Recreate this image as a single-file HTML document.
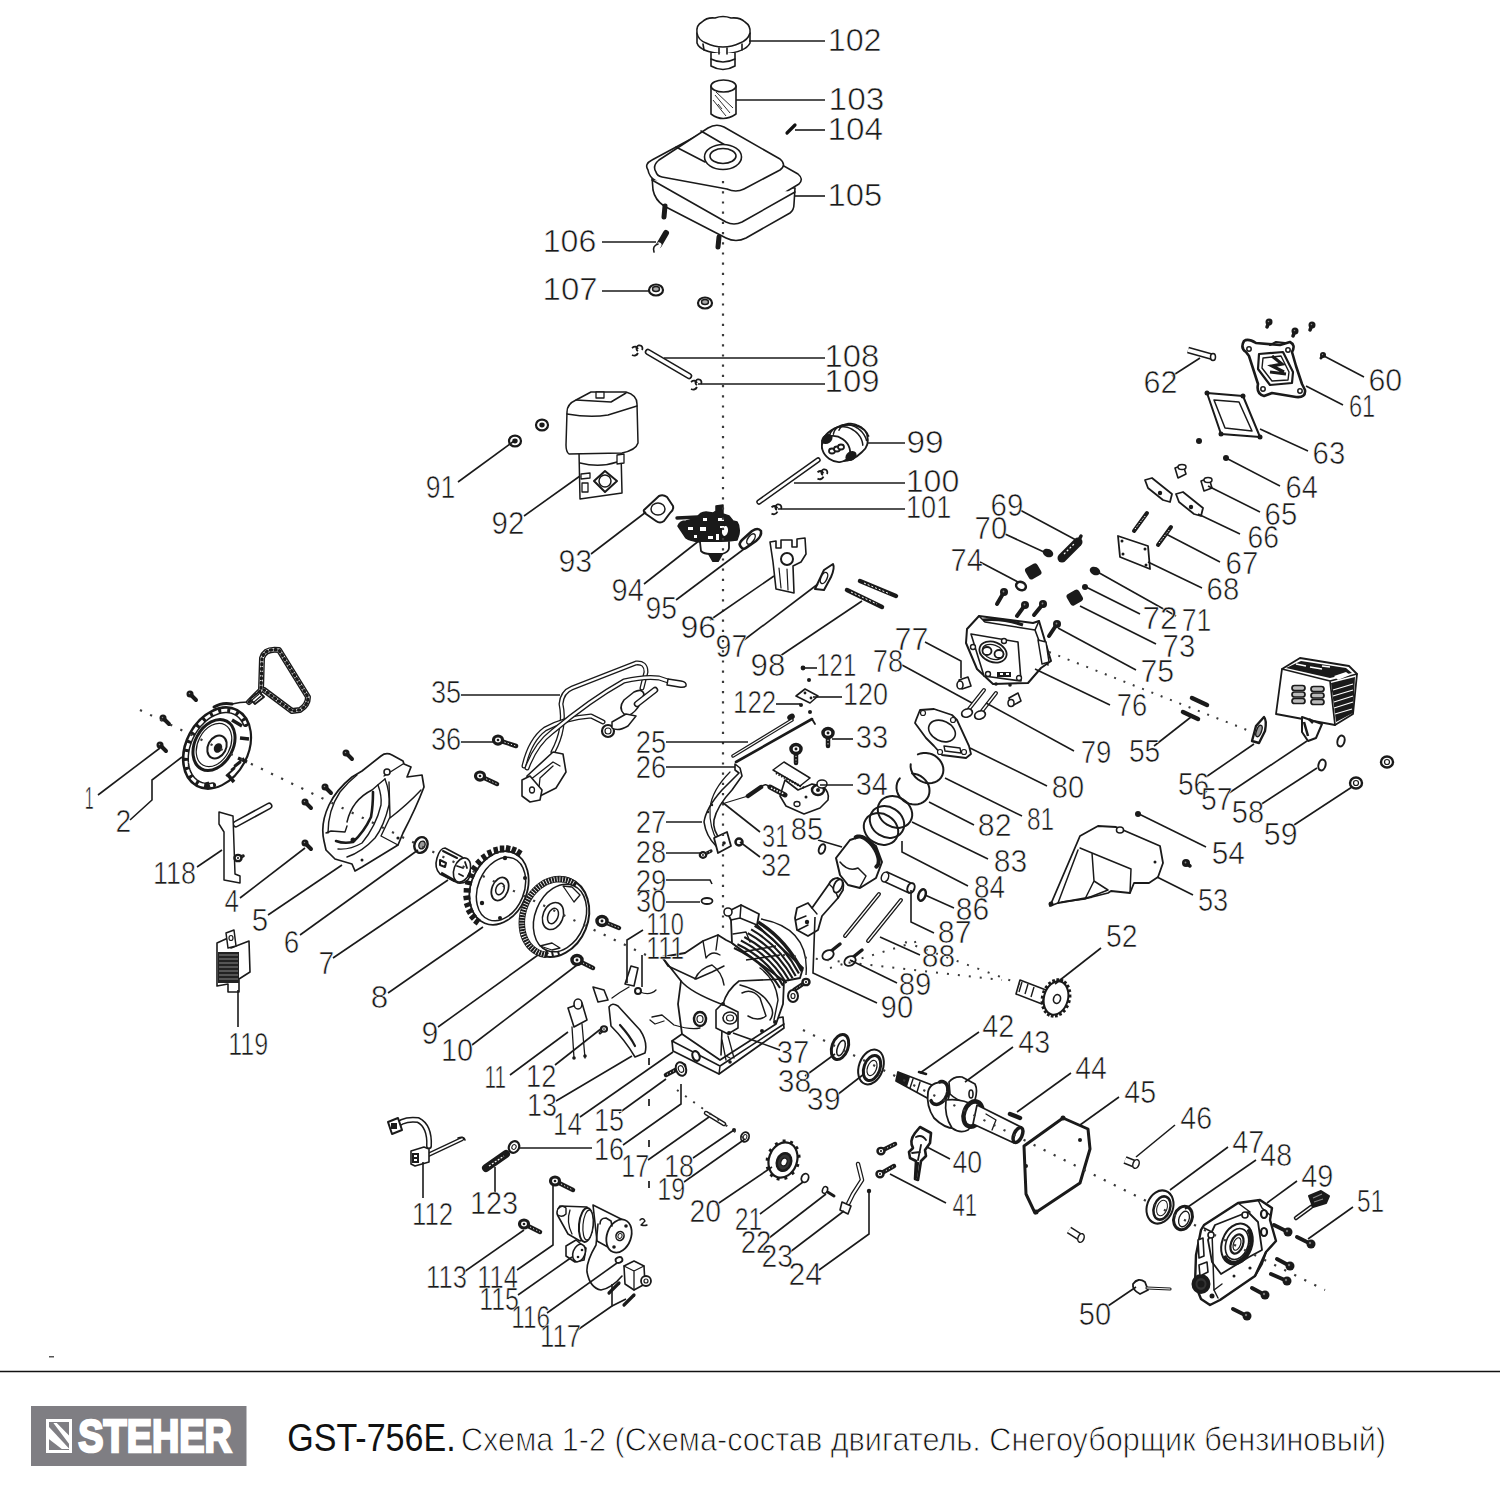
<!DOCTYPE html>
<html><head><meta charset="utf-8">
<style>
html,body{margin:0;padding:0;background:#fff;width:1500px;height:1500px;overflow:hidden}
svg{position:absolute;left:0;top:0}
.lbl text{font-family:"Liberation Sans",sans-serif;font-size:31px;fill:#1a1a1a;stroke:#fff;stroke-width:0.6px}
.ld polyline{fill:none;stroke:#1a1a1a;stroke-width:1.6}
.p{fill:#fff;stroke:#1a1a1a;stroke-width:1.6;stroke-linejoin:round;stroke-linecap:round}
.pd{fill:#222;stroke:#111;stroke-width:1.2}
.dot{fill:none;stroke:#333;stroke-width:1.8;stroke-dasharray:1.5 6}
.foot{position:absolute;left:288px;top:1402px;font-family:"Liberation Sans",sans-serif;color:#111;white-space:nowrap}
</style></head><body>
<svg width="1500" height="1500" viewBox="0 0 1500 1500">
<g class="parts">

<path class="p" d="M697,33 L697,43 Q700,52 723,54 Q746,52 750,43 L750,33"/>
<path class="p" d="M711,53 L711,66 Q723,73 735,66 L735,53"/>
<path class="p" d="M711,59 Q723,65 735,59"/>
<path class="p" d="M697,33 Q696,25 702,22 Q707,17 715,18 Q723,15 731,18 Q740,17 745,22 Q751,26 750,33 Q748,40 740,43 Q732,47 723,47 Q714,47 706,43 Q698,40 697,33 Z"/>
<path class="p" d="M703,44 L704,50 M719,48 L719,54 M727,48 L727,54 M742,44 L742,50"/>
<path class="p" d="M711,86 L711,114 Q723,123 736,114 L736,86"/>
<ellipse class="p" cx="723.5" cy="86" rx="12.5" ry="6"/>
<path fill="none" stroke="#333" stroke-width="1" d="M715,95 L730,113 M713,100 L726,116 M716,92 L733,108 M718,104 L722,109"/>
<line x1="787" y1="133" x2="795" y2="125" stroke="#111" stroke-width="3.2" stroke-linecap="round"/>
<path class="p" d="M652,177 L653,190 Q655,200 664,206 L726,238 Q736,243 746,238 L790,213 Q794,210 794,204 L795,188 Z"/>
<path class="p" d="M648,170 Q644,164 652,160 L704,132 Q714,127 722,131 L798,174 Q804,179 799,184 L742,218 Q734,222 724,218 L656,181 Q649,177 648,170 Z"/>
<path class="p" d="M652,180 L726,222 Q734,226 742,222 L795,192"/>
<path class="p" d="M656,172 Q652,166 659,160 L708,128 Q716,123 724,127 L780,159 Q787,165 780,170 L744,189 Q736,193 727,189 L662,177 Q657,176 656,172 Z"/>
<path class="p" d="M701,131 L725,145 M676,147 L705,162"/>
<ellipse class="p" cx="723" cy="157" rx="18.5" ry="12.5"/>
<ellipse class="p" cx="723" cy="156" rx="13" ry="7.5"/>
<line x1="665" y1="206" x2="664" y2="217" stroke="#1a1a1a" stroke-width="5" stroke-linecap="round"/><line x1="719" y1="237" x2="718" y2="247" stroke="#1a1a1a" stroke-width="5" stroke-linecap="round"/><line x1="666" y1="233" x2="659" y2="245" stroke="#1a1a1a" stroke-width="6" stroke-linecap="round"/><line x1="659" y1="245" x2="656" y2="250" stroke="#fff" stroke-width="5" stroke-linecap="round"/><path d="M654,252 Q652,246 658,244" fill="none" stroke="#1a1a1a" stroke-width="1.6" stroke-linejoin="round" stroke-linecap="round" /><ellipse cx="656" cy="290" rx="7" ry="5.5" transform="rotate(0 656 290)" fill="#fff" stroke="#1a1a1a" stroke-width="2.2" /><ellipse cx="656" cy="289" rx="3.5" ry="2.5" transform="rotate(0 656 289)" fill="#aaa" stroke="#1a1a1a" stroke-width="1.4" /><ellipse cx="705" cy="303" rx="7" ry="5.5" transform="rotate(0 705 303)" fill="#fff" stroke="#1a1a1a" stroke-width="2.2" /><ellipse cx="705" cy="302" rx="3.5" ry="2.5" transform="rotate(0 705 302)" fill="#aaa" stroke="#1a1a1a" stroke-width="1.4" /><ellipse cx="515" cy="441" rx="6" ry="5.4" transform="rotate(0 515 441)" fill="#fff" stroke="#1a1a1a" stroke-width="2.2" /><ellipse cx="515" cy="441" rx="2.7" ry="2.4000000000000004" transform="rotate(0 515 441)" fill="#1a1a1a" stroke="none" stroke-width="0" /><ellipse cx="542" cy="425" rx="6" ry="5.4" transform="rotate(0 542 425)" fill="#fff" stroke="#1a1a1a" stroke-width="2.2" /><ellipse cx="542" cy="425" rx="2.7" ry="2.4000000000000004" transform="rotate(0 542 425)" fill="#1a1a1a" stroke="none" stroke-width="0" /><line x1="648" y1="352" x2="689" y2="376" stroke="#1a1a1a" stroke-width="6.5" stroke-linecap="round"/><line x1="648" y1="352" x2="689" y2="376" stroke="#fff" stroke-width="3.3" stroke-linecap="round"/><path d="M632,348 q4,-3 6,1 M632,355 q4,2 6,-2 M638,351 a3,3 0 1,1 4,-1" fill="none" stroke="#1a1a1a" stroke-width="1.8"/><path d="M691,382 q4,-3 6,1 M691,389 q4,2 6,-2 M697,385 a3,3 0 1,1 4,-1" fill="none" stroke="#1a1a1a" stroke-width="1.8"/><path d="M579,452 L580,499 L622,493 L621,452 Z" fill="#fff" stroke="#1a1a1a" stroke-width="1.5" stroke-linejoin="round" stroke-linecap="round" /><path d="M580,463 Q600,468 617,462" fill="#fff" stroke="#1a1a1a" stroke-width="1.5" stroke-linejoin="round" stroke-linecap="round" /><path d="M581,474 L590,473 L590,478 L581,479 Z M582,483 L588,483 L588,492 L582,492 Z" fill="#fff" stroke="#1a1a1a" stroke-width="1.3" stroke-linejoin="round" stroke-linecap="round" /><path d="M594,481 L605,471 L617,481 L605,492 Z" fill="#fff" stroke="#1a1a1a" stroke-width="2" stroke-linejoin="round" stroke-linecap="round" /><ellipse cx="605" cy="481" rx="6" ry="6" transform="rotate(0 605 481)" fill="#fff" stroke="#1a1a1a" stroke-width="1.5" /><path d="M617,455 L624,454 L624,463 L617,464 Z" fill="#fff" stroke="#1a1a1a" stroke-width="1.3" stroke-linejoin="round" stroke-linecap="round" /><path d="M567,412 Q567,404 576,400 L591,392 L626,392 Q637,395 637,404 L638,443 Q636,450 622,453 L569,454 Q566,452 566,445 Z" fill="#fff" stroke="#1a1a1a" stroke-width="1.5" stroke-linejoin="round" stroke-linecap="round" /><path d="M567,414 Q590,418 608,415 L637,406" fill="none" stroke="#1a1a1a" stroke-width="1.5" stroke-linejoin="round" stroke-linecap="round" /><path d="M576,400 L611,402 L626,393" fill="none" stroke="#1a1a1a" stroke-width="1.5" stroke-linejoin="round" stroke-linecap="round" /><path d="M596,392 L604,392 L604,398 L596,398 Z" fill="#fff" stroke="#1a1a1a" stroke-width="1.3" stroke-linejoin="round" stroke-linecap="round" /><path d="M644,510 L659,496 Q663,494 667,497 L673,506 Q674,510 670,513 L664,521 Q660,524 656,521 L646,514 Q643,512 644,510 Z" fill="#fff" stroke="#1a1a1a" stroke-width="2" stroke-linejoin="round" stroke-linecap="round" /><ellipse cx="658" cy="509" rx="7" ry="6" transform="rotate(0 658 509)" fill="#fff" stroke="#1a1a1a" stroke-width="1.5" /><path d="M678,526 Q680,521 686,521 L697,518 Q700,512 706,512 L713,513 L716,511 L716,506 L723,505 L723,514 L729,516 L733,521 L737,522 Q740,526 739,534 L737,540 L728,541 L700,542 Q690,541 686,538 L682,532 Z" fill="#1a1a1a" stroke="#1a1a1a" stroke-width="1.5" stroke-linejoin="round" stroke-linecap="round" /><line x1="677" y1="518" x2="698" y2="517" stroke="#1a1a1a" stroke-width="3.4" stroke-linecap="round"/><ellipse cx="725" cy="531" rx="3" ry="5" transform="rotate(10 725 531)" fill="#fff" stroke="none" stroke-width="0" /><path d="M688,527 h5 v3 h-5z M700,527 h6 v4 h-6z M703,518 h4 v3 h-4z M718,518 h6 v3 h-6z M708,536 h5 v3 h-5z M716,534 h3 v6 h-3z M694,535 h3 v3 h-3z M720,526 h4 v2 h-4z" fill="#fff"/><path d="M700,542 L701,551 Q704,554 710,554 L722,554 Q729,552 729,548 L729,542" fill="#fff" stroke="#1a1a1a" stroke-width="1.8" stroke-linejoin="round" stroke-linecap="round" /><path d="M709,554 L713,561 L718,561 L722,554" fill="#1a1a1a" stroke="#1a1a1a" stroke-width="2" stroke-linejoin="round" stroke-linecap="round" /><path d="M741,547 Q738,544 742,540 L752,531 Q758,527 761,531 Q762,536 756,541 L746,548 Q743,550 741,547 Z" fill="#fff" stroke="#1a1a1a" stroke-width="2.5" stroke-linejoin="round" stroke-linecap="round" /><ellipse cx="751" cy="539" rx="3" ry="6" transform="rotate(35 751 539)" fill="#fff" stroke="#1a1a1a" stroke-width="1.5" /><path d="M770,542 L776,541 L776,548 L781,548 L781,540 L792,540 L792,547 L797,547 L797,539 L805,538 L806,554 L801,562 L793,566 L794,593 L776,589 L773,562 Z" fill="#fff" stroke="#1a1a1a" stroke-width="1.6" stroke-linejoin="round" stroke-linecap="round" /><ellipse cx="787" cy="559" rx="6" ry="6" transform="rotate(0 787 559)" fill="#fff" stroke="#1a1a1a" stroke-width="2" /><path d="M779,568 L781,588 M787,569 L788,590" fill="none" stroke="#1a1a1a" stroke-width="1.2" stroke-linejoin="round" stroke-linecap="round" /><path d="M815,589 L824,570 L833,564 Q835,568 831,577 L824,590 Z" fill="#fff" stroke="#1a1a1a" stroke-width="2" stroke-linejoin="round" stroke-linecap="round" /><ellipse cx="824" cy="578" rx="3" ry="6" transform="rotate(25 824 578)" fill="#fff" stroke="#1a1a1a" stroke-width="1.5" /><line x1="860" y1="581" x2="896" y2="596" stroke="#1a1a1a" stroke-width="4.5" stroke-linecap="round"/><line x1="847" y1="590" x2="882" y2="607" stroke="#1a1a1a" stroke-width="4.5" stroke-linecap="round"/><line x1="864" y1="583" x2="890" y2="594" stroke="#fff" stroke-width="1" stroke-dasharray="2 2"/><line x1="851" y1="592" x2="877" y2="604" stroke="#fff" stroke-width="1" stroke-dasharray="2 2"/><line x1="759" y1="502" x2="818" y2="460" stroke="#1a1a1a" stroke-width="5.5" stroke-linecap="round"/><line x1="759" y1="502" x2="818" y2="460" stroke="#fff" stroke-width="2.5" stroke-linecap="round"/><path d="M817.5,472.3 q4,-3 6,1 M817.5,478.6 q4,2 6,-2 M822.9,475 a3,3 0 1,1 4,-1" fill="none" stroke="#1a1a1a" stroke-width="1.8"/><path d="M771.5,507.3 q4,-3 6,1 M771.5,513.6 q4,2 6,-2 M776.9,510 a3,3 0 1,1 4,-1" fill="none" stroke="#1a1a1a" stroke-width="1.8"/><path d="M822,441 Q828,428 846,425 Q862,424 867,434 Q870,446 862,452 Q852,462 840,461 Q826,458 822,448 Z" fill="#fff" stroke="#1a1a1a" stroke-width="1.8" stroke-linejoin="round" stroke-linecap="round" /><ellipse cx="836" cy="449" rx="12" ry="15" transform="rotate(-55 836 449)" fill="#fff" stroke="#1a1a1a" stroke-width="1.8" /><polyline points="829.2,438.8 829.3,437.2 829.5,435.7 829.9,434.3 830.5,432.9 831.3,431.7 832.2,430.5 833.2,429.5 834.5,428.6 835.8,427.9 837.2,427.3 838.8,426.9 840.4,426.7 842.1,426.6 843.8,426.7 845.6,426.9 847.3,427.3 849.1,427.9 850.8,428.6 852.4,429.5 854.0,430.5 855.5,431.7 856.9,432.9 858.2,434.3 859.3,435.7 860.3,437.2 861.2,438.8 861.8,440.4 862.3,442.0 862.6,443.6 862.8,445.2" fill="none" stroke="#1a1a1a" stroke-width="1.5" stroke-linecap="round"/><polyline points="833.4,434.2 833.7,432.9 834.1,431.7 834.7,430.5 835.4,429.4 836.3,428.4 837.2,427.5 838.3,426.7 839.5,426.1 840.8,425.5 842.1,425.1 843.5,424.8 845.0,424.6 846.5,424.6 848.0,424.7 849.6,424.9 851.1,425.3 852.7,425.8 854.2,426.4 855.7,427.1 857.2,428.0 858.5,428.9 859.8,429.9 861.1,431.1 862.2,432.3 863.2,433.6 864.1,434.9 864.9,436.3 865.6,437.7 866.1,439.1 866.5,440.5" fill="none" stroke="#1a1a1a" stroke-width="1.5" stroke-linecap="round"/><polyline points="839.0,430.2 839.4,429.3 840.0,428.4 840.6,427.5 841.4,426.8 842.2,426.1 843.1,425.4 844.0,424.9 845.1,424.4 846.1,424.1 847.3,423.8 848.5,423.6 849.7,423.6 850.9,423.6 852.2,423.7 853.5,423.9 854.8,424.2 856.1,424.6 857.3,425.1 858.6,425.6 859.8,426.3 861.0,427.0 862.1,427.8 863.2,428.7 864.2,429.6 865.1,430.6 866.0,431.6 866.8,432.7 867.5,433.8 868.1,435.0 868.7,436.1" fill="none" stroke="#1a1a1a" stroke-width="1.5" stroke-linecap="round"/><ellipse cx="827" cy="439" rx="4.5" ry="3" transform="rotate(-35 827 439)" fill="#1a1a1a" stroke="#1a1a1a" stroke-width="3" /><ellipse cx="851" cy="456" rx="4.5" ry="3" transform="rotate(-35 851 456)" fill="#1a1a1a" stroke="#1a1a1a" stroke-width="3" /><ellipse cx="832" cy="451" rx="3" ry="2.5" transform="rotate(0 832 451)" fill="#fff" stroke="#1a1a1a" stroke-width="1.8" /><ellipse cx="837" cy="449" rx="3" ry="2.5" transform="rotate(0 837 449)" fill="#fff" stroke="#1a1a1a" stroke-width="1.8" /><ellipse cx="841" cy="447" rx="3" ry="2.5" transform="rotate(0 841 447)" fill="#fff" stroke="#1a1a1a" stroke-width="1.8" /><line x1="190" y1="694" x2="196" y2="700" stroke="#1a1a1a" stroke-width="4" stroke-linecap="round"/><circle cx="190" cy="694" r="3.5" fill="#1a1a1a"/><circle cx="189.5" cy="693.5" r="0.77" fill="#888"/><line x1="163" y1="718" x2="169" y2="724" stroke="#1a1a1a" stroke-width="4" stroke-linecap="round"/><circle cx="163" cy="718" r="3.5" fill="#1a1a1a"/><circle cx="162.5" cy="717.5" r="0.77" fill="#888"/><line x1="160" y1="745" x2="166" y2="751" stroke="#1a1a1a" stroke-width="4" stroke-linecap="round"/><circle cx="160" cy="745" r="3.5" fill="#1a1a1a"/><circle cx="159.5" cy="744.5" r="0.77" fill="#888"/><line x1="346" y1="753" x2="352" y2="759" stroke="#1a1a1a" stroke-width="4" stroke-linecap="round"/><circle cx="346" cy="753" r="3.5" fill="#1a1a1a"/><circle cx="345.5" cy="752.5" r="0.77" fill="#888"/><line x1="325" y1="787" x2="331" y2="793" stroke="#1a1a1a" stroke-width="4" stroke-linecap="round"/><circle cx="325" cy="787" r="3.5" fill="#1a1a1a"/><circle cx="324.5" cy="786.5" r="0.77" fill="#888"/><line x1="305" y1="802" x2="311" y2="808" stroke="#1a1a1a" stroke-width="4" stroke-linecap="round"/><circle cx="305" cy="802" r="3.5" fill="#1a1a1a"/><circle cx="304.5" cy="801.5" r="0.77" fill="#888"/><line x1="305" y1="843" x2="311" y2="849" stroke="#1a1a1a" stroke-width="4" stroke-linecap="round"/><circle cx="305" cy="843" r="3.5" fill="#1a1a1a"/><circle cx="304.5" cy="842.5" r="0.77" fill="#888"/><ellipse cx="217" cy="748" rx="31" ry="43" transform="rotate(28 217 748)" fill="#fff" stroke="#1a1a1a" stroke-width="2.2" /><polyline points="213.1,785.2 211.0,785.5 208.8,785.7 206.8,785.7 204.8,785.4 202.8,785.1 200.9,784.5 199.1,783.8 197.4,782.8 195.7,781.8 194.2,780.5 192.8,779.1 191.5,777.5 190.3,775.8 189.3,774.0 188.4,772.0 187.6,769.9 187.0,767.7 186.5,765.5 186.2,763.1 186.0,760.6 186.0,758.1 186.1,755.6 186.4,753.0 186.8,750.4 187.3,747.7 188.1,745.1 188.9,742.5 189.9,739.9 191.0,737.4 192.3,734.9 193.6,732.4 195.1,730.1 196.7,727.8 198.4,725.6 200.2,723.6 202.1,721.6 204.0,719.8 206.0,718.1 208.0,716.6 210.1,715.2 212.3,714.0 214.4,713.0 216.6,712.1 218.7,711.4 220.9,710.8 223.0,710.5 225.2,710.3 227.2,710.3 229.2,710.6 231.2,710.9 233.1,711.5 234.9,712.2 236.6,713.2 238.3,714.2 239.8,715.5 241.2,716.9 242.5,718.5 243.7,720.2 244.7,722.0 245.6,724.0" fill="none" stroke="#1a1a1a" stroke-width="6" stroke-linecap="round"/><polyline points="213.1,785.2 211.0,785.5 208.8,785.7 206.8,785.7 204.8,785.4 202.8,785.1 200.9,784.5 199.1,783.8 197.4,782.8 195.7,781.8 194.2,780.5 192.8,779.1 191.5,777.5 190.3,775.8 189.3,774.0 188.4,772.0 187.6,769.9 187.0,767.7 186.5,765.5 186.2,763.1 186.0,760.6 186.0,758.1 186.1,755.6 186.4,753.0 186.8,750.4 187.3,747.7 188.1,745.1 188.9,742.5 189.9,739.9 191.0,737.4 192.3,734.9 193.6,732.4 195.1,730.1 196.7,727.8 198.4,725.6 200.2,723.6 202.1,721.6 204.0,719.8 206.0,718.1 208.0,716.6 210.1,715.2 212.3,714.0 214.4,713.0 216.6,712.1 218.7,711.4 220.9,710.8 223.0,710.5 225.2,710.3 227.2,710.3 229.2,710.6 231.2,710.9 233.1,711.5 234.9,712.2 236.6,713.2 238.3,714.2 239.8,715.5 241.2,716.9 242.5,718.5 243.7,720.2 244.7,722.0 245.6,724.0" fill="none" stroke="#fff" stroke-width="3" stroke-dasharray="6 3"/><ellipse cx="214" cy="745" rx="19" ry="27" transform="rotate(28 214 745)" fill="#fff" stroke="#1a1a1a" stroke-width="3" /><ellipse cx="214" cy="745" rx="16" ry="23" transform="rotate(28 214 745)" fill="#fff" stroke="#1a1a1a" stroke-width="1.2" /><ellipse cx="217" cy="747" rx="9" ry="12" transform="rotate(28 217 747)" fill="#fff" stroke="#1a1a1a" stroke-width="2" /><ellipse cx="218" cy="748" rx="4" ry="5" transform="rotate(28 218 748)" fill="#1a1a1a" stroke="none" stroke-width="0" /><path d="M232,720 l10,6 M240,738 l9,1 M238,758 l9,4 M228,775 l6,7 M207,782 l2,6" stroke="#1a1a1a" stroke-width="3.5"/><path d="M231,770 l10,-8 M234,766 l10,-8 M226,776 l9,-8" stroke="#1a1a1a" stroke-width="2"/><path d="M214,707 Q222,702 232,704" fill="none" stroke="#1a1a1a" stroke-width="3" stroke-linejoin="round" stroke-linecap="round" /><path d="M232,704 Q240,702 248,702" fill="none" stroke="#1a1a1a" stroke-width="1.4" stroke-linejoin="round" stroke-linecap="round" /><path d="M249,702 L261,690 L262,658 Q265,648 279,650 L308,697 Q308,705 300,710 L292,711 L264,690" fill="none" stroke="#1a1a1a" stroke-width="6" stroke-linejoin="round" stroke-linecap="round" /><path d="M249,702 L261,690 L262,658 Q265,648 279,650 L308,697 Q308,705 300,710 L292,711 L264,690" fill="none" stroke-width="3.2" stroke-linejoin="round" stroke-linecap="round" stroke="#fff"/><path d="M249,702 L261,690 L262,658 Q265,648 279,650 L308,697 Q308,705 300,710 L292,711 L264,690" fill="none" stroke-width="3.2" stroke-linejoin="round" stroke-linecap="round" stroke="#1a1a1a" stroke-dasharray="1.2 3.5"/><path d="M250,699 l9,-7 l5,5 l-9,7 Z" fill="#fff" stroke="#1a1a1a" stroke-width="1.8" stroke-linejoin="round" stroke-linecap="round" /><path d="M252,700 l7,-6 M254,702 l7,-6" stroke="#1a1a1a" stroke-width="1.2"/><path d="M324,841 Q320,824 329,805 Q336,790 352,777 L362,771 L381,756 Q386,752 392,755 L403,761 L404,764 L411,767 L407,777 L422,775 L424,787 Q416,808 403,833 L398,845 L362,867 L355,871 L352,864 L335,859 L326,850 Z" fill="#fff" stroke="#1a1a1a" stroke-width="1.7" stroke-linejoin="round" stroke-linecap="round" /><path d="M328,833 Q328,810 340,792 Q348,782 357,775" fill="none" stroke="#1a1a1a" stroke-width="1.4" stroke-linejoin="round" stroke-linecap="round" /><path d="M326,833 L331,831 L345,832 L347,826" fill="none" stroke="#1a1a1a" stroke-width="1.4" stroke-linejoin="round" stroke-linecap="round" /><path d="M347,822 Q352,800 372,790 Q380,783 385,779" fill="none" stroke="#1a1a1a" stroke-width="1.5" stroke-linejoin="round" stroke-linecap="round" /><path d="M373,792 Q373,806 371,817 Q364,832 353,842 Q344,844 336,841" fill="none" stroke="#1a1a1a" stroke-width="2.6" stroke-linejoin="round" stroke-linecap="round" /><path d="M378,785 Q382,796 381,805 Q376,826 362,843 Q350,850 338,849" fill="none" stroke="#1a1a1a" stroke-width="1.4" stroke-linejoin="round" stroke-linecap="round" /><path d="M385,779 Q390,792 389,805 Q384,826 375,838 Q362,852 347,857" fill="none" stroke="#1a1a1a" stroke-width="1.4" stroke-linejoin="round" stroke-linecap="round" /><path d="M389,782 L390,817 L381,836 L398,845 M390,818 Q408,804 421,790" fill="none" stroke="#1a1a1a" stroke-width="1.4" stroke-linejoin="round" stroke-linecap="round" /><path d="M384,776 L403,764" fill="none" stroke="#1a1a1a" stroke-width="1.4" stroke-linejoin="round" stroke-linecap="round" /><ellipse cx="387" cy="772" rx="3" ry="3" transform="rotate(0 387 772)" fill="#fff" stroke="#1a1a1a" stroke-width="1.5" /><circle cx="353" cy="840" r="2.5" fill="#1a1a1a"/><circle cx="362" cy="860" r="1.5" fill="#1a1a1a"/><circle cx="398" cy="838" r="1.6" fill="#1a1a1a"/><line x1="236" y1="824" x2="269" y2="806" stroke="#1a1a1a" stroke-width="7" stroke-linecap="round"/><line x1="236" y1="824" x2="269" y2="806" stroke="#fff" stroke-width="3.8" stroke-linecap="round"/><path d="M219,812 L233,816 L235,874 L240,876 L240,883 L224,880 L224,832 L219,824 Z" fill="#fff" stroke="#1a1a1a" stroke-width="1.5" stroke-linejoin="round" stroke-linecap="round" /><line x1="238" y1="858" x2="243" y2="856" stroke="#1a1a1a" stroke-width="3.5" stroke-linecap="round"/><line x1="238" y1="858" x2="243" y2="856" stroke="#fff" stroke-width="0.9" stroke-dasharray="1.2 2.2"/><ellipse cx="238" cy="858" rx="3.5" ry="3.15" fill="#fff" stroke="#1a1a1a" stroke-width="2.45"/><ellipse cx="238" cy="858" rx="1.05" ry="0.9800000000000001" fill="#1a1a1a"/><path d="M217,943 L228,938 L231,948 L249,941 L250,972 L239,979 L239,992 L228,992 L228,984 L217,986 Z" fill="#fff" stroke="#1a1a1a" stroke-width="1.6" stroke-linejoin="round" stroke-linecap="round" /><rect x="218" y="952" width="21" height="31" fill="#222"/><path d="M219,955 h19 M219,959 h19 M219,963 h19 M219,967 h19 M219,971 h19 M219,975 h19 M219,979 h19" stroke="#888" stroke-width="1"/><path d="M226,933 L234,930 L236,946 L228,948 Z" fill="#fff" stroke="#1a1a1a" stroke-width="1.5" stroke-linejoin="round" stroke-linecap="round" /><ellipse cx="231" cy="938" rx="2" ry="2.5" transform="rotate(0 231 938)" fill="#fff" stroke="#1a1a1a" stroke-width="1.2" /><ellipse cx="421" cy="845" rx="6.5" ry="8" transform="rotate(20 421 845)" fill="#fff" stroke="#1a1a1a" stroke-width="2.4" /><ellipse cx="422" cy="845" rx="3" ry="4" transform="rotate(20 422 845)" fill="#999" stroke="#1a1a1a" stroke-width="1.4" /><path d="M445,848 L462,857 Q472,866 470,876 Q467,884 458,883 L440,874 Q434,868 437,858 Q440,848 445,848 Z" fill="#fff" stroke="#1a1a1a" stroke-width="1.6" stroke-linejoin="round" stroke-linecap="round" /><ellipse cx="462" cy="870" rx="8" ry="12.5" transform="rotate(20 462 870)" fill="#fff" stroke="#1a1a1a" stroke-width="1.6" /><path d="M443,851 l14,7 M440,860 l6,3 l-1,4 l-5,-2 Z" fill="none" stroke="#1a1a1a" stroke-width="2" stroke-linejoin="round" stroke-linecap="round" /><path d="M441,873 l14,8" stroke="#1a1a1a" stroke-width="3"/><path d="M457,866 l6,2 M459,874 l4,2 M465,862 l2,6" fill="none" stroke="#1a1a1a" stroke-width="1.8" stroke-linejoin="round" stroke-linecap="round" /><ellipse cx="499" cy="888" rx="28" ry="38" transform="rotate(22 499 888)" fill="#fff" stroke="#1a1a1a" stroke-width="1.8" /><ellipse cx="501" cy="889" rx="23" ry="33" transform="rotate(22 501 889)" fill="#fff" stroke="#1a1a1a" stroke-width="1.5" /><ellipse cx="500" cy="889" rx="8" ry="12" transform="rotate(22 500 889)" fill="#fff" stroke="#1a1a1a" stroke-width="1.8" /><ellipse cx="500" cy="889" rx="4" ry="6" transform="rotate(22 500 889)" fill="#fff" stroke="#1a1a1a" stroke-width="1.5" /><path d="M479.1,918.5L474.9,924.1 M475.6,914.4L470.4,919.1 M472.9,909.4L466.9,913.0 M471.1,903.5L464.6,906.0 M470.4,897.2L463.5,898.3 M470.7,890.4L463.7,890.2 M472.0,883.6L465.2,882.1 M474.4,877.0L467.9,874.2 M477.6,870.7L471.8,866.7 M481.5,865.1L476.6,860.1 M486.2,860.3L482.3,854.5 M491.2,856.5L488.5,850.0 M496.6,853.9L495.2,847.0 M502.1,852.5L502.0,845.5 M507.4,852.3L508.6,845.5 M512.4,853.5L515.0,847.0 M517.0,856.0L520.7,850.0" stroke="#1a1a1a" stroke-width="4.5" fill="none"/><circle cx="505" cy="858" r="2.2" fill="#1a1a1a"/><circle cx="525" cy="878" r="2" fill="#1a1a1a"/><circle cx="482" cy="903" r="2.2" fill="#1a1a1a"/><circle cx="500" cy="918" r="2" fill="#1a1a1a"/><ellipse cx="555" cy="917" rx="33" ry="41" transform="rotate(22 555 917)" fill="#fff" stroke="#1a1a1a" stroke-width="2" /><polyline points="544.6,954.6 541.1,953.8 537.7,952.4 534.6,950.6 531.8,948.3 529.2,945.6 527.0,942.5 525.1,939.1 523.6,935.3 522.6,931.3 522.0,927.2 521.8,922.9 522.0,918.5 522.7,914.0 523.8,909.7 525.3,905.4 527.1,901.3 529.4,897.4 532.0,893.7 534.9,890.4 538.0,887.4 541.4,884.9 544.9,882.7 548.6,881.1 552.3,879.9 556.0,879.2 559.8,879.0 563.4,879.4 566.9,880.2 570.3,881.6 573.4,883.4" fill="none" stroke="#1a1a1a" stroke-width="6.5" stroke-linecap="round"/><polyline points="544.6,954.6 542.0,954.0 539.4,953.2 536.9,952.0 534.6,950.6 532.4,948.9 530.4,947.0 528.6,944.9 527.0,942.5 525.5,940.0 524.3,937.2 523.3,934.4 522.6,931.3 522.1,928.2 521.8,925.0 521.8,921.8 522.0,918.5 522.5,915.1 523.2,911.8 524.1,908.6 525.3,905.4 526.6,902.3 528.2,899.3 530.0,896.4 532.0,893.7 534.1,891.2 536.4,888.9 538.8,886.7 541.4,884.9 544.0,883.2 546.7,881.8 549.5,880.7 552.3,879.9 555.1,879.3 557.9,879.0 560.7,879.1 563.4,879.4 566.0,880.0 568.6,880.8 571.1,882.0 573.4,883.4" fill="none" stroke="#fff" stroke-width="5" stroke-dasharray="0.8 2"/><ellipse cx="560" cy="918" rx="25" ry="35" transform="rotate(22 560 918)" fill="#fff" stroke="#1a1a1a" stroke-width="1.5" /><ellipse cx="553" cy="916" rx="10" ry="14" transform="rotate(22 553 916)" fill="#fff" stroke="#1a1a1a" stroke-width="1.6" /><ellipse cx="553" cy="916" rx="5" ry="8" transform="rotate(22 553 916)" fill="#fff" stroke="#1a1a1a" stroke-width="1.5" /><path d="M563,886 L572,887 L580,895 L574,902 Z M540,946 L552,950 L560,948 L552,943 Z" fill="#fff" stroke="#1a1a1a" stroke-width="1.3" stroke-linejoin="round" stroke-linecap="round" /><path d="M546,950 l2,4 M552,952 l1,4 M558,951 l1,4" stroke="#1a1a1a" stroke-width="2"/><line x1="602" y1="921" x2="619" y2="928" stroke="#1a1a1a" stroke-width="4.5" stroke-linecap="round"/><line x1="602" y1="921" x2="619" y2="928" stroke="#fff" stroke-width="0.9" stroke-dasharray="1.2 2.2"/><ellipse cx="602" cy="921" rx="5" ry="4.5" fill="#fff" stroke="#1a1a1a" stroke-width="3.50"/><ellipse cx="602" cy="921" rx="1.5" ry="1.4000000000000001" fill="#1a1a1a"/><line x1="577" y1="960" x2="593" y2="968" stroke="#1a1a1a" stroke-width="4.5" stroke-linecap="round"/><line x1="577" y1="960" x2="593" y2="968" stroke="#fff" stroke-width="0.9" stroke-dasharray="1.2 2.2"/><ellipse cx="577" cy="960" rx="5" ry="4.5" fill="#fff" stroke="#1a1a1a" stroke-width="3.50"/><ellipse cx="577" cy="960" rx="1.5" ry="1.4000000000000001" fill="#1a1a1a"/><path d="M553,752 Q566,728 561,704 Q562,692 572,688 L636,663 Q646,662 646,672 L642,688" fill="none" stroke="#1a1a1a" stroke-width="5" stroke-linejoin="round" stroke-linecap="round" /><path d="M553,752 Q566,728 561,704 Q562,692 572,688 L636,663 Q646,662 646,672 L642,688" fill="none" stroke-width="2.4" stroke-linejoin="round" stroke-linecap="round" stroke="#fff"/><path d="M524,766 Q530,740 545,729 Q565,718 591,716 L603,722" fill="none" stroke="#1a1a1a" stroke-width="5" stroke-linejoin="round" stroke-linecap="round" /><path d="M524,766 Q530,740 545,729 Q565,718 591,716 L603,722" fill="none" stroke-width="2.4" stroke-linejoin="round" stroke-linecap="round" stroke="#fff"/><path d="M527,768 Q536,744 552,732 Q590,700 624,681 Q645,676 659,678 L668,681" fill="none" stroke="#1a1a1a" stroke-width="5" stroke-linejoin="round" stroke-linecap="round" /><path d="M527,768 Q536,744 552,732 Q590,700 624,681 Q645,676 659,678 L668,681" fill="none" stroke-width="2.4" stroke-linejoin="round" stroke-linecap="round" stroke="#fff"/><path d="M668,679 L681,681 Q687,682 686,686 Q684,688 679,687 L667,685 Z" fill="#fff" stroke="#1a1a1a" stroke-width="1.5" stroke-linejoin="round" stroke-linecap="round" /><ellipse cx="608" cy="731" rx="6" ry="6" transform="rotate(0 608 731)" fill="#fff" stroke="#1a1a1a" stroke-width="2.2" /><ellipse cx="608" cy="731" rx="3" ry="3" transform="rotate(0 608 731)" fill="#fff" stroke="#1a1a1a" stroke-width="1.2" /><path d="M624,714 Q618,708 624,700 L634,692 Q642,688 644,694 L640,704 Q636,712 628,716 Z" fill="#fff" stroke="#1a1a1a" stroke-width="1.6" stroke-linejoin="round" stroke-linecap="round" /><path d="M612,722 L626,714 L636,716 L628,726 Q618,732 612,728 Z" fill="#fff" stroke="#1a1a1a" stroke-width="1.5" stroke-linejoin="round" stroke-linecap="round" /><line x1="637" y1="704" x2="655" y2="690" stroke="#1a1a1a" stroke-width="6.5" stroke-linecap="round"/><line x1="637" y1="704" x2="655" y2="690" stroke="#fff" stroke-width="3.5" stroke-linecap="round"/><path d="M527,776 L553,752 L563,754 L566,772 L556,788 L538,797 L528,794 Z" fill="#fff" stroke="#1a1a1a" stroke-width="1.6" stroke-linejoin="round" stroke-linecap="round" /><path d="M530,780 L553,762 L560,766 M538,797 L540,778 L553,766" fill="none" stroke="#1a1a1a" stroke-width="1.3" stroke-linejoin="round" stroke-linecap="round" /><path d="M522,780 L530,776 L542,790 L540,800 L530,802 L522,796 Z" fill="#fff" stroke="#1a1a1a" stroke-width="1.6" stroke-linejoin="round" stroke-linecap="round" /><ellipse cx="532" cy="790" rx="2.5" ry="3" transform="rotate(0 532 790)" fill="#fff" stroke="#1a1a1a" stroke-width="1.3" /><line x1="498" y1="740" x2="516" y2="746" stroke="#1a1a1a" stroke-width="4.5" stroke-linecap="round"/><line x1="498" y1="740" x2="516" y2="746" stroke="#fff" stroke-width="0.9" stroke-dasharray="1.2 2.2"/><ellipse cx="498" cy="740" rx="4.5" ry="4.05" fill="#fff" stroke="#1a1a1a" stroke-width="3.15"/><ellipse cx="498" cy="740" rx="1.3499999999999999" ry="1.2600000000000002" fill="#1a1a1a"/><line x1="480" y1="776" x2="497" y2="784" stroke="#1a1a1a" stroke-width="4.5" stroke-linecap="round"/><line x1="480" y1="776" x2="497" y2="784" stroke="#fff" stroke-width="0.9" stroke-dasharray="1.2 2.2"/><ellipse cx="480" cy="776" rx="4.5" ry="4.05" fill="#fff" stroke="#1a1a1a" stroke-width="3.15"/><ellipse cx="480" cy="776" rx="1.3499999999999999" ry="1.2600000000000002" fill="#1a1a1a"/><circle cx="803" cy="668" r="2.4" fill="#1a1a1a"/><circle cx="809" cy="680" r="2" fill="#1a1a1a"/><path d="M796,696 L805,689 L818,696 L810,703 Z" fill="#fff" stroke="#1a1a1a" stroke-width="1.6" stroke-linejoin="round" stroke-linecap="round" /><circle cx="805" cy="693" r="1.4" fill="#1a1a1a"/><circle cx="811" cy="698" r="1.4" fill="#1a1a1a"/><circle cx="801" cy="705" r="2" fill="#1a1a1a"/><circle cx="810" cy="712" r="2" fill="#1a1a1a"/><ellipse cx="791" cy="717" rx="4" ry="3" transform="rotate(-30 791 717)" fill="#1a1a1a" stroke="none" stroke-width="0" /><line x1="733" y1="756" x2="792" y2="720" stroke="#1a1a1a" stroke-width="3.5" stroke-linecap="round"/><line x1="733" y1="756" x2="792" y2="720" stroke="#fff" stroke-width="1.1" stroke-linecap="round"/><line x1="736" y1="762" x2="812" y2="719" stroke="#1a1a1a" stroke-width="2.6" stroke-linecap="round"/><path d="M812,719 L815,724" fill="none" stroke="#1a1a1a" stroke-width="1.8" stroke-linejoin="round" stroke-linecap="round" /><path d="M735,764 L735,770 L739,773 L722,790 Q706,808 704,822 Q706,836 716,846 L722,842 Q712,830 714,820 Q717,806 732,790 L742,776 L740,768 Z" fill="#fff" stroke="#1a1a1a" stroke-width="1.6" stroke-linejoin="round" stroke-linecap="round" /><path d="M730,772 Q712,790 710,808 Q709,828 718,842" fill="none" stroke="#1a1a1a" stroke-width="1.2" stroke-linejoin="round" stroke-linecap="round" /><path d="M714,838 L727,832 L731,846 L718,853 Z" fill="#fff" stroke="#1a1a1a" stroke-width="1.8" stroke-linejoin="round" stroke-linecap="round" /><circle cx="724" cy="843" r="1.8" fill="#1a1a1a"/><circle cx="712" cy="805" r="1.2" fill="#1a1a1a"/><circle cx="708" cy="812" r="1.2" fill="#1a1a1a"/><line x1="828" y1="733" x2="828" y2="746" stroke="#1a1a1a" stroke-width="4.5" stroke-linecap="round"/><line x1="828" y1="733" x2="828" y2="746" stroke="#fff" stroke-width="0.9" stroke-dasharray="1.2 2.2"/><ellipse cx="828" cy="733" rx="5" ry="4.5" fill="#fff" stroke="#1a1a1a" stroke-width="3.50"/><ellipse cx="828" cy="733" rx="1.5" ry="1.4000000000000001" fill="#1a1a1a"/><line x1="796" y1="749" x2="796" y2="763" stroke="#1a1a1a" stroke-width="4.5" stroke-linecap="round"/><line x1="796" y1="749" x2="796" y2="763" stroke="#fff" stroke-width="0.9" stroke-dasharray="1.2 2.2"/><ellipse cx="796" cy="749" rx="5" ry="4.5" fill="#fff" stroke="#1a1a1a" stroke-width="3.50"/><ellipse cx="796" cy="749" rx="1.5" ry="1.4000000000000001" fill="#1a1a1a"/><path d="M773,770 L784,762 L810,778 L800,786 Z" fill="#fff" stroke="#1a1a1a" stroke-width="1.5" stroke-linejoin="round" stroke-linecap="round" /><path d="M785,780 L798,790 L812,784 L822,786 Q830,792 828,800 L820,808 L804,814 L786,806 L780,796 Z" fill="#fff" stroke="#1a1a1a" stroke-width="1.6" stroke-linejoin="round" stroke-linecap="round" /><path d="M776,773 l28,15" stroke="#1a1a1a" stroke-width="2.5" stroke-dasharray="1.5 1.5"/><line x1="770" y1="787" x2="785" y2="795" stroke="#1a1a1a" stroke-width="5" stroke-linecap="round"/><path d="M771,788 l13,6" stroke="#fff" stroke-width="1.5" stroke-dasharray="1.5 1.5"/><ellipse cx="818" cy="790" rx="6" ry="5" transform="rotate(0 818 790)" fill="#fff" stroke="#1a1a1a" stroke-width="2.5" /><ellipse cx="822" cy="784" rx="5" ry="4" transform="rotate(0 822 784)" fill="#fff" stroke="#1a1a1a" stroke-width="1.5" /><circle cx="818" cy="790" r="2" fill="#1a1a1a"/><ellipse cx="797" cy="804" rx="3" ry="2.5" transform="rotate(0 797 804)" fill="#fff" stroke="#1a1a1a" stroke-width="1.3" /><circle cx="806" cy="797" r="1.5" fill="#1a1a1a"/><line x1="748" y1="796" x2="761" y2="787" stroke="#1a1a1a" stroke-width="4.5" stroke-linecap="round"/><path d="M761,787 Q766,783 768,786" fill="none" stroke="#1a1a1a" stroke-width="1.5" stroke-linejoin="round" stroke-linecap="round" /><path d="M725,803 L748,796" fill="none" stroke="#1a1a1a" stroke-width="1.2" stroke-linejoin="round" stroke-linecap="round" /><ellipse cx="739" cy="842" rx="3.5" ry="3.5" transform="rotate(0 739 842)" fill="#fff" stroke="#1a1a1a" stroke-width="2.5" /><line x1="703" y1="855" x2="711" y2="851" stroke="#1a1a1a" stroke-width="3.2" stroke-linecap="round"/><line x1="703" y1="855" x2="711" y2="851" stroke="#fff" stroke-width="0.9" stroke-dasharray="1.2 2.2"/><ellipse cx="703" cy="855" rx="3.2" ry="2.8800000000000003" fill="#fff" stroke="#1a1a1a" stroke-width="2.24"/><ellipse cx="703" cy="855" rx="0.96" ry="0.8960000000000001" fill="#1a1a1a"/><ellipse cx="707" cy="901" rx="5.5" ry="3" transform="rotate(0 707 901)" fill="#fff" stroke="#1a1a1a" stroke-width="1.8" /><path d="M672,1041 L682,1034 L783,1017 L784,1028 L719,1074 L673,1051 Z" fill="#fff" stroke="#1a1a1a" stroke-width="1.7" stroke-linejoin="round" stroke-linecap="round" /><path d="M672,1041 L720,1066 L784,1024 M720,1066 L719,1074" fill="none" stroke="#1a1a1a" stroke-width="1.5" stroke-linejoin="round" stroke-linecap="round" /><path d="M682,1034 L730,1058" fill="none" stroke="#1a1a1a" stroke-width="1.2" stroke-linejoin="round" stroke-linecap="round" /><ellipse cx="696" cy="1056" rx="3.5" ry="5" transform="rotate(-20 696 1056)" fill="#fff" stroke="#1a1a1a" stroke-width="2.2" /><circle cx="730" cy="1062" r="1.8" fill="#1a1a1a"/><path d="M681,981 L662,957 L685,953 L703,941 L718,935 L726,940 L732,943 L736,946 L784,981 L783,1004 L776,1024 L720,1060 L682,1034 L678,1004 Z" fill="#fff" stroke="#1a1a1a" stroke-width="1.8" stroke-linejoin="round" stroke-linecap="round" /><path d="M721,1055 L723,1004 Q727,990 739,981 L784,979" fill="none" stroke="#1a1a1a" stroke-width="1.6" stroke-linejoin="round" stroke-linecap="round" /><path d="M662,957 L668,966 L696,979 L712,972 L724,966" fill="none" stroke="#1a1a1a" stroke-width="1.5" stroke-linejoin="round" stroke-linecap="round" /><path d="M695,979 Q700,968 712,965 Q722,972 724,985" fill="none" stroke="#1a1a1a" stroke-width="1.5" stroke-linejoin="round" stroke-linecap="round" /><path d="M703,941 L706,958 M718,935 L716,950 M706,958 Q712,950 720,955" fill="none" stroke="#1a1a1a" stroke-width="1.4" stroke-linejoin="round" stroke-linecap="round" /><path d="M681,981 Q690,992 721,1004" fill="none" stroke="#1a1a1a" stroke-width="1.4" stroke-linejoin="round" stroke-linecap="round" /><path d="M740,985 Q760,990 768,1002 Q776,1012 770,1020" fill="none" stroke="#1a1a1a" stroke-width="1.5" stroke-linejoin="round" stroke-linecap="round" /><path d="M742,993 Q752,988 760,998 L766,1016 Q758,1022 748,1016" fill="none" stroke="#1a1a1a" stroke-width="1.5" stroke-linejoin="round" stroke-linecap="round" /><path d="M760,968 Q776,980 778,1000 L774,1020" fill="none" stroke="#1a1a1a" stroke-width="1.4" stroke-linejoin="round" stroke-linecap="round" /><ellipse cx="700" cy="1019" rx="6" ry="7" transform="rotate(0 700 1019)" fill="#fff" stroke="#1a1a1a" stroke-width="2.5" /><ellipse cx="700" cy="1019" rx="3" ry="3.5" transform="rotate(0 700 1019)" fill="#fff" stroke="#1a1a1a" stroke-width="1.2" /><path d="M716,1010 L722,1004 L738,1012 L738,1028 L728,1034 L716,1028 Z" fill="#fff" stroke="#1a1a1a" stroke-width="1.6" stroke-linejoin="round" stroke-linecap="round" /><ellipse cx="730" cy="1018" rx="7" ry="6" transform="rotate(0 730 1018)" fill="#fff" stroke="#1a1a1a" stroke-width="1.6" /><ellipse cx="730" cy="1018" rx="3.5" ry="3" transform="rotate(0 730 1018)" fill="#fff" stroke="#1a1a1a" stroke-width="1.2" /><path d="M722,1040 L726,1060 M728,1036 L734,1058" fill="none" stroke="#1a1a1a" stroke-width="1.3" stroke-linejoin="round" stroke-linecap="round" /><circle cx="723" cy="1004" r="2" fill="#1a1a1a"/><circle cx="729" cy="1033" r="2" fill="#1a1a1a"/><circle cx="762" cy="1031" r="2" fill="#1a1a1a"/><circle cx="775" cy="1022" r="2" fill="#1a1a1a"/><path d="M652,1017 L662,1015 L674,1025 Q690,1030 700,1028" fill="none" stroke="#1a1a1a" stroke-width="1.3" stroke-linejoin="round" stroke-linecap="round" /><path d="M650,1020 L655,1024 L664,1021" fill="none" stroke="#1a1a1a" stroke-width="1.3" stroke-linejoin="round" stroke-linecap="round" /><path d="M727,912 L741,905 L759,914 L757,925 L803,968 L800,978 L784,981 L736,946 L732,943 L731,920 Z" fill="#fff" stroke="#1a1a1a" stroke-width="1.8" stroke-linejoin="round" stroke-linecap="round" /><path d="M741,905 L740,918 L731,920 M740,918 L757,925" fill="none" stroke="#1a1a1a" stroke-width="1.5" stroke-linejoin="round" stroke-linecap="round" /><ellipse cx="728" cy="912" rx="4" ry="4" transform="rotate(0 728 912)" fill="#fff" stroke="#1a1a1a" stroke-width="1.6" /><path d="M733,934 L746,932 L750,942" fill="none" stroke="#1a1a1a" stroke-width="1.4" stroke-linejoin="round" stroke-linecap="round" /><path d="M734.0,948.0 Q763.0,961.0 780.0,988.0" fill="none" stroke="#1a1a1a" stroke-width="2.2"/><path d="M737.4,944.3 Q766.3,957.9 783.1,985.6" fill="none" stroke="#1a1a1a" stroke-width="2.2"/><path d="M740.9,940.6 Q769.6,954.9 786.3,983.1" fill="none" stroke="#1a1a1a" stroke-width="2.2"/><path d="M744.3,936.9 Q772.9,951.8 789.4,980.7" fill="none" stroke="#1a1a1a" stroke-width="2.2"/><path d="M747.7,933.1 Q776.1,948.7 792.6,978.3" fill="none" stroke="#1a1a1a" stroke-width="2.2"/><path d="M751.1,929.4 Q779.4,945.6 795.7,975.9" fill="none" stroke="#1a1a1a" stroke-width="2.2"/><path d="M754.6,925.7 Q782.7,942.6 798.9,973.4" fill="none" stroke="#1a1a1a" stroke-width="2.2"/><path d="M758.0,922.0 Q786.0,939.5 802.0,971.0" fill="none" stroke="#1a1a1a" stroke-width="3.4"/><path d="M761,919 Q810,928 806,975" fill="none" stroke="#1a1a1a" stroke-width="1.4"/><path d="M742,952 L776,946 M746,960 L780,955" stroke="#1a1a1a" stroke-width="1.6" fill="none"/><line x1="806" y1="982" x2="794" y2="990" stroke="#1a1a1a" stroke-width="4.5" stroke-linecap="round"/><line x1="806" y1="982" x2="794" y2="990" stroke="#fff" stroke-width="0.9" stroke-dasharray="1.2 2.2"/><ellipse cx="806" cy="982" rx="3.5" ry="3.15" fill="#fff" stroke="#1a1a1a" stroke-width="2.45"/><ellipse cx="806" cy="982" rx="1.05" ry="0.9800000000000001" fill="#1a1a1a"/><ellipse cx="793" cy="996" rx="5" ry="6" transform="rotate(0 793 996)" fill="#fff" stroke="#1a1a1a" stroke-width="2" /><ellipse cx="793" cy="996" rx="2" ry="2.5" transform="rotate(0 793 996)" fill="#fff" stroke="#1a1a1a" stroke-width="1.2" /><path d="M625,984 L631,966 L638,968 L634,986 Z" fill="#fff" stroke="#1a1a1a" stroke-width="1.6" stroke-linejoin="round" stroke-linecap="round" /><path d="M629,987 Q620,992 612,998 M640,992 Q650,996 656,990" fill="none" stroke="#1a1a1a" stroke-width="1.3" stroke-linejoin="round" stroke-linecap="round" /><path d="M593,987 L604,990 L608,1000 L598,1002 Z" fill="#fff" stroke="#1a1a1a" stroke-width="1.6" stroke-linejoin="round" stroke-linecap="round" /><ellipse cx="638" cy="991" rx="3" ry="3" transform="rotate(0 638 991)" fill="#fff" stroke="#1a1a1a" stroke-width="2" /><path d="M568,1008 L582,1003 L587,1020 L574,1027 Z" fill="#fff" stroke="#1a1a1a" stroke-width="1.6" stroke-linejoin="round" stroke-linecap="round" /><ellipse cx="578" cy="1004" rx="4" ry="5" transform="rotate(0 578 1004)" fill="#fff" stroke="#1a1a1a" stroke-width="1.6" /><path d="M572,1027 L574,1058 M582,1024 L585,1058" fill="none" stroke="#1a1a1a" stroke-width="1.3" stroke-linejoin="round" stroke-linecap="round" /><circle cx="574" cy="1058" r="1.8" fill="#1a1a1a"/><circle cx="585" cy="1056" r="1.8" fill="#1a1a1a"/><line x1="604" y1="1029" x2="600" y2="1033" stroke="#1a1a1a" stroke-width="3" stroke-linecap="round"/><line x1="604" y1="1029" x2="600" y2="1033" stroke="#fff" stroke-width="0.9" stroke-dasharray="1.2 2.2"/><ellipse cx="604" cy="1029" rx="3" ry="2.7" fill="#fff" stroke="#1a1a1a" stroke-width="2.10"/><ellipse cx="604" cy="1029" rx="0.8999999999999999" ry="0.8400000000000001" fill="#1a1a1a"/><path d="M609,1007 Q612,1002 618,1006 L640,1030 Q648,1042 645,1053 L635,1057 Q625,1040 611,1026 Z" fill="#fff" stroke="#1a1a1a" stroke-width="1.6" stroke-linejoin="round" stroke-linecap="round" /><path d="M620,1025 Q630,1036 635,1046" fill="none" stroke="#1a1a1a" stroke-width="2.2" stroke-linejoin="round" stroke-linecap="round" /><line x1="683" y1="1066" x2="666" y2="1075" stroke="#1a1a1a" stroke-width="4.5" stroke-linecap="round"/><line x1="683" y1="1066" x2="666" y2="1075" stroke="#fff" stroke-width="0.9" stroke-dasharray="1.2 2.2"/><ellipse cx="683" cy="1066" rx="2.5" ry="2.25" fill="#fff" stroke="#1a1a1a" stroke-width="1.75"/><ellipse cx="683" cy="1066" rx="0.75" ry="0.7000000000000001" fill="#1a1a1a"/><ellipse cx="681" cy="1069" rx="5" ry="7" transform="rotate(-20 681 1069)" fill="#fff" stroke="#1a1a1a" stroke-width="2" /><ellipse cx="681" cy="1069" rx="2.5" ry="3.5" transform="rotate(-20 681 1069)" fill="#fff" stroke="#1a1a1a" stroke-width="1.2" /><line x1="1269" y1="322" x2="1267" y2="327" stroke="#1a1a1a" stroke-width="3.5" stroke-linecap="round"/><circle cx="1269" cy="322" r="3.5" fill="#1a1a1a"/><circle cx="1268.5" cy="321.5" r="0.77" fill="#888"/><line x1="1295" y1="331" x2="1293" y2="336" stroke="#1a1a1a" stroke-width="3.5" stroke-linecap="round"/><circle cx="1295" cy="331" r="3.5" fill="#1a1a1a"/><circle cx="1294.5" cy="330.5" r="0.77" fill="#888"/><line x1="1312" y1="325" x2="1310" y2="330" stroke="#1a1a1a" stroke-width="3.5" stroke-linecap="round"/><circle cx="1312" cy="325" r="3.5" fill="#1a1a1a"/><circle cx="1311.5" cy="324.5" r="0.77" fill="#888"/><line x1="1323" y1="355" x2="1321" y2="358" stroke="#1a1a1a" stroke-width="3" stroke-linecap="round"/><circle cx="1323" cy="355" r="3" fill="#1a1a1a"/><circle cx="1322.5" cy="354.5" r="0.66" fill="#888"/><line x1="1188" y1="350" x2="1213" y2="357" stroke="#1a1a1a" stroke-width="7" stroke-linecap="butt"/><line x1="1188" y1="350" x2="1213" y2="357" stroke="#fff" stroke-width="3.8" stroke-linecap="butt"/><ellipse cx="1213" cy="357" rx="2.5" ry="3.5" transform="rotate(0 1213 357)" fill="#fff" stroke="#1a1a1a" stroke-width="1.5" /><path d="M1244,341 Q1240,348 1246,352 L1249,356 L1258,384 Q1256,394 1264,396 L1272,393 L1296,397 Q1306,398 1305,390 L1302,384 L1296,366 L1292,352 Q1296,345 1290,342 L1280,345 L1256,343 Q1248,338 1244,341 Z" fill="#fff" stroke="#1a1a1a" stroke-width="2.6" stroke-linejoin="round" stroke-linecap="round" /><path d="M1259,354 L1283,352 L1293,372 L1292,383 L1270,385 L1258,369 Z" fill="#fff" stroke="#1a1a1a" stroke-width="2.2" stroke-linejoin="round" stroke-linecap="round" /><path d="M1263,358 L1281,356 L1289,372 L1288,380 L1272,381 L1262,368 Z" fill="#fff" stroke="#1a1a1a" stroke-width="1.4" stroke-linejoin="round" stroke-linecap="round" /><path d="M1272,356 l10,8 l-10,2 l12,6 M1270,372 l16,2" stroke="#1a1a1a" stroke-width="3.2" fill="none"/><ellipse cx="1249" cy="349" rx="2.2" ry="2.2" transform="rotate(0 1249 349)" fill="#fff" stroke="#1a1a1a" stroke-width="1.5" /><ellipse cx="1288" cy="350" rx="2.2" ry="2.2" transform="rotate(0 1288 350)" fill="#fff" stroke="#1a1a1a" stroke-width="1.5" /><ellipse cx="1263" cy="389" rx="2.2" ry="2.2" transform="rotate(0 1263 389)" fill="#fff" stroke="#1a1a1a" stroke-width="1.5" /><ellipse cx="1300" cy="391" rx="2.2" ry="2.2" transform="rotate(0 1300 391)" fill="#fff" stroke="#1a1a1a" stroke-width="1.5" /><path d="M1270,345 L1276,342 L1285,343" fill="none" stroke="#1a1a1a" stroke-width="2" stroke-linejoin="round" stroke-linecap="round" /><path d="M1207,393 L1243,396 L1260,437 L1221,434 Z" fill="#fff" stroke="#1a1a1a" stroke-width="2" stroke-linejoin="round" stroke-linecap="round" /><path d="M1214,400 L1239,402 L1252,431 L1225,428 Z" fill="#fff" stroke="#1a1a1a" stroke-width="1.5" stroke-linejoin="round" stroke-linecap="round" /><circle cx="1207" cy="393" r="2.5" fill="#1a1a1a"/><circle cx="1243" cy="396" r="2.5" fill="#1a1a1a"/><circle cx="1260" cy="437" r="2.5" fill="#1a1a1a"/><circle cx="1221" cy="434" r="2.5" fill="#1a1a1a"/><circle cx="1199" cy="441" r="3" fill="#1a1a1a"/><circle cx="1226" cy="458" r="3" fill="#1a1a1a"/><path d="M1175,468 L1183,465 L1186,474 L1178,478 Z" fill="#fff" stroke="#1a1a1a" stroke-width="1.6" stroke-linejoin="round" stroke-linecap="round" /><ellipse cx="1182" cy="467" rx="4" ry="2.5" transform="rotate(0 1182 467)" fill="#fff" stroke="#1a1a1a" stroke-width="1.5" /><path d="M1201,481 L1209,478 L1212,488 L1204,491 Z" fill="#fff" stroke="#1a1a1a" stroke-width="1.6" stroke-linejoin="round" stroke-linecap="round" /><ellipse cx="1208" cy="480" rx="4" ry="2.5" transform="rotate(0 1208 480)" fill="#fff" stroke="#1a1a1a" stroke-width="1.5" /><path d="M1145,480 L1152,478 L1172,494 L1170,502 L1163,500 L1148,488 Z" fill="#fff" stroke="#1a1a1a" stroke-width="1.8" stroke-linejoin="round" stroke-linecap="round" /><circle cx="1160" cy="493" r="2.2" fill="#1a1a1a"/><path d="M1176,494 L1183,492 L1203,508 L1201,516 L1194,514 L1179,502 Z" fill="#fff" stroke="#1a1a1a" stroke-width="1.8" stroke-linejoin="round" stroke-linecap="round" /><circle cx="1191" cy="507" r="2.2" fill="#1a1a1a"/><line x1="1134" y1="531" x2="1147" y2="513" stroke="#1a1a1a" stroke-width="4" stroke-linecap="round"/><line x1="1158" y1="545" x2="1171" y2="527" stroke="#1a1a1a" stroke-width="4" stroke-linecap="round"/><path d="M1135,529 l11,-14 M1159,543 l11,-14" stroke="#fff" stroke-width="1" stroke-dasharray="1.5 1.5"/><path d="M1118,536 L1148,546 L1150,569 L1120,557 Z" fill="#fff" stroke="#1a1a1a" stroke-width="1.8" stroke-linejoin="round" stroke-linecap="round" /><circle cx="1122" cy="541" r="1.5" fill="#1a1a1a"/><circle cx="1145" cy="549" r="1.5" fill="#1a1a1a"/><circle cx="1123" cy="554" r="1.5" fill="#1a1a1a"/><circle cx="1146" cy="565" r="1.5" fill="#1a1a1a"/><line x1="1062" y1="558" x2="1078" y2="542" stroke="#1a1a1a" stroke-width="9" stroke-linecap="round"/><path d="M1064,554 l10,-10" stroke="#fff" stroke-width="1.2" stroke-dasharray="2 2"/><line x1="1078" y1="542" x2="1081" y2="536" stroke="#1a1a1a" stroke-width="3.5" stroke-linecap="round"/><ellipse cx="1048" cy="553" rx="5.5" ry="4" transform="rotate(25 1048 553)" fill="#1a1a1a" stroke="none" stroke-width="0" /><rect x="1026" y="565" width="14" height="13" rx="3" transform="rotate(-30 1033 571)" fill="#1a1a1a"/><ellipse cx="1021" cy="586" rx="5" ry="4" transform="rotate(25 1021 586)" fill="#fff" stroke="#1a1a1a" stroke-width="2.5" /><rect x="1068" y="591" width="14" height="13" rx="3" transform="rotate(-30 1075 598)" fill="#1a1a1a"/><circle cx="1085" cy="587" r="3" fill="#1a1a1a"/><ellipse cx="1095" cy="571" rx="5.5" ry="4" transform="rotate(25 1095 571)" fill="#1a1a1a" stroke="none" stroke-width="0" /><line x1="1004" y1="592" x2="997" y2="604" stroke="#1a1a1a" stroke-width="4" stroke-linecap="round"/><circle cx="1004" cy="592" r="4" fill="#1a1a1a"/><circle cx="1003.5" cy="591.5" r="0.88" fill="#888"/><line x1="1025" y1="605" x2="1017" y2="616" stroke="#1a1a1a" stroke-width="4" stroke-linecap="round"/><circle cx="1025" cy="605" r="4" fill="#1a1a1a"/><circle cx="1024.5" cy="604.5" r="0.88" fill="#888"/><line x1="1043" y1="604" x2="1034" y2="615" stroke="#1a1a1a" stroke-width="4" stroke-linecap="round"/><circle cx="1043" cy="604" r="4" fill="#1a1a1a"/><circle cx="1042.5" cy="603.5" r="0.88" fill="#888"/><line x1="1057" y1="624" x2="1049" y2="636" stroke="#1a1a1a" stroke-width="4" stroke-linecap="round"/><circle cx="1057" cy="624" r="4" fill="#1a1a1a"/><circle cx="1056.5" cy="623.5" r="0.88" fill="#888"/><path d="M967,629 L979,616 L1033,623 L1039,621 L1051,661 L1041,668 L1028,683 L993,684 L977,669 L966,643 Z" fill="#fff" stroke="#1a1a1a" stroke-width="2" stroke-linejoin="round" stroke-linecap="round" /><path d="M971,634 L1018,642 L1021,681 L984,676 Z" fill="#fff" stroke="#1a1a1a" stroke-width="1.6" stroke-linejoin="round" stroke-linecap="round" /><path d="M979,616 L985,622 L1035,630 L1039,621 M1035,630 L1048,665" fill="none" stroke="#1a1a1a" stroke-width="1.6" stroke-linejoin="round" stroke-linecap="round" /><path d="M1038,640 L1046,642 L1049,662 L1042,664 Z" fill="#fff" stroke="#1a1a1a" stroke-width="1.5" stroke-linejoin="round" stroke-linecap="round" /><path d="M983,620 q20,-2 40,5" stroke="#1a1a1a" stroke-width="3" fill="none"/><ellipse cx="993" cy="652" rx="14" ry="10" transform="rotate(20 993 652)" fill="#fff" stroke="#1a1a1a" stroke-width="1.8" /><ellipse cx="993" cy="652" rx="11" ry="7" transform="rotate(20 993 652)" fill="#fff" stroke="#1a1a1a" stroke-width="1.2" /><ellipse cx="987" cy="651" rx="4.5" ry="4" transform="rotate(0 987 651)" fill="#fff" stroke="#1a1a1a" stroke-width="1.8" /><ellipse cx="999" cy="654" rx="4.5" ry="4" transform="rotate(0 999 654)" fill="#fff" stroke="#1a1a1a" stroke-width="1.8" /><ellipse cx="973" cy="647" rx="2.5" ry="2.5" transform="rotate(0 973 647)" fill="#fff" stroke="#1a1a1a" stroke-width="1.4" /><ellipse cx="1004" cy="641" rx="2.5" ry="2.5" transform="rotate(0 1004 641)" fill="#fff" stroke="#1a1a1a" stroke-width="1.4" /><ellipse cx="988" cy="674" rx="2.5" ry="2.5" transform="rotate(0 988 674)" fill="#fff" stroke="#1a1a1a" stroke-width="1.4" /><ellipse cx="1019" cy="678" rx="2.5" ry="2.5" transform="rotate(0 1019 678)" fill="#fff" stroke="#1a1a1a" stroke-width="1.4" /><rect x="997" y="672" width="14" height="5" fill="#1a1a1a"/><rect x="1000" y="673" width="3" height="2" fill="#fff"/><rect x="1006" y="673" width="3" height="2" fill="#fff"/><circle cx="996" cy="684" r="1.8" fill="#1a1a1a"/><circle cx="1010" cy="685" r="1.8" fill="#1a1a1a"/><path d="M959,680 L968,677 L971,686 L962,689 Z" fill="#fff" stroke="#1a1a1a" stroke-width="1.6" stroke-linejoin="round" stroke-linecap="round" /><ellipse cx="960" cy="685" rx="3" ry="4" transform="rotate(0 960 685)" fill="#fff" stroke="#1a1a1a" stroke-width="1.6" /><line x1="969" y1="709" x2="984" y2="690" stroke="#1a1a1a" stroke-width="4" stroke-linecap="round"/><line x1="969" y1="709" x2="984" y2="690" stroke="#fff" stroke-width="1.4" stroke-linecap="round"/><ellipse cx="967" cy="713" rx="5.5" ry="4" transform="rotate(-20 967 713)" fill="#fff" stroke="#1a1a1a" stroke-width="1.8" /><line x1="982" y1="711" x2="996" y2="693" stroke="#1a1a1a" stroke-width="4" stroke-linecap="round"/><line x1="982" y1="711" x2="996" y2="693" stroke="#fff" stroke-width="1.4" stroke-linecap="round"/><ellipse cx="980" cy="715" rx="5.5" ry="4" transform="rotate(-20 980 715)" fill="#fff" stroke="#1a1a1a" stroke-width="1.8" /><path d="M1009,698 L1018,693 L1021,701 L1012,706 Z" fill="#fff" stroke="#1a1a1a" stroke-width="1.6" stroke-linejoin="round" stroke-linecap="round" /><ellipse cx="1011" cy="703" rx="3" ry="3.5" transform="rotate(0 1011 703)" fill="#fff" stroke="#1a1a1a" stroke-width="1.5" /><path d="M916,720 L920,710 L934,709 L952,715 L957,720 L969,746 L971,754 L966,758 L942,755 L934,746 L926,738 L915,723 Z" fill="#fff" stroke="#1a1a1a" stroke-width="1.8" stroke-linejoin="round" stroke-linecap="round" /><ellipse cx="942" cy="731" rx="14" ry="10" transform="rotate(25 942 731)" fill="#fff" stroke="#1a1a1a" stroke-width="1.6" /><path d="M944,746 L960,748 L961,753 L945,751 Z" fill="#fff" stroke="#1a1a1a" stroke-width="1.4" stroke-linejoin="round" stroke-linecap="round" /><ellipse cx="923" cy="713" rx="2.5" ry="2.5" transform="rotate(0 923 713)" fill="#fff" stroke="#1a1a1a" stroke-width="1.2" /><ellipse cx="953" cy="720" rx="2.5" ry="2.5" transform="rotate(0 953 720)" fill="#fff" stroke="#1a1a1a" stroke-width="1.2" /><ellipse cx="940" cy="752" rx="2.5" ry="2.5" transform="rotate(0 940 752)" fill="#fff" stroke="#1a1a1a" stroke-width="1.2" /><ellipse cx="964" cy="752" rx="2.5" ry="2.5" transform="rotate(0 964 752)" fill="#fff" stroke="#1a1a1a" stroke-width="1.2" /><polyline points="917.9,754.4 920.5,753.4 923.3,752.9 926.2,752.9 929.2,753.4 932.0,754.3 934.8,755.7 937.2,757.5 939.4,759.7 941.1,762.1 942.4,764.7 943.2,767.4 943.4,770.1 943.1,772.8 942.3,775.3 941.0,777.6 939.3,779.5 937.1,781.1 934.6,782.3 931.9,783.0 929.0,783.2 926.1,782.9 923.2,782.1 920.4,780.9 917.8,779.3 915.5,777.2 913.6,774.9 912.1,772.4 911.1,769.7 910.6,767.0 910.7,764.3" fill="none" stroke="#1a1a1a" stroke-width="2" stroke-linecap="round"/><polyline points="912.1,773.5 915.1,773.9 918.0,774.8 920.8,776.2 923.2,777.9 925.4,780.1 927.2,782.5 928.5,785.1 929.3,787.9 929.5,790.7 929.3,793.4 928.5,796.0 927.2,798.4 925.4,800.5 923.2,802.1 920.8,803.4 918.0,804.2 915.1,804.5 912.1,804.3 909.2,803.6 906.4,802.5 903.8,800.9 901.5,798.9 899.5,796.6 898.0,794.0 897.0,791.3 896.5,788.5 896.6,785.7 897.1,783.1 898.2,780.6 899.8,778.4" fill="none" stroke="#1a1a1a" stroke-width="2" stroke-linecap="round"/><ellipse cx="895" cy="812" rx="18" ry="15" transform="rotate(32 895 812)" fill="none" stroke="#1a1a1a" stroke-width="2" /><ellipse cx="887" cy="822" rx="18" ry="15" transform="rotate(32 887 822)" fill="none" stroke="#1a1a1a" stroke-width="2" /><ellipse cx="881" cy="829" rx="18" ry="15" transform="rotate(32 881 829)" fill="none" stroke="#1a1a1a" stroke-width="2" /><path d="M836,858 L850,840 L862,836 L876,846 L882,862 L876,878 L860,888 L848,885 L840,875 Z" fill="#fff" stroke="#1a1a1a" stroke-width="2" stroke-linejoin="round" stroke-linecap="round" /><polyline points="855.7,837.3 856.5,836.8 857.4,836.5 858.5,836.4 859.6,836.4 860.7,836.6 862.0,837.0 863.3,837.6 864.6,838.3 865.9,839.2 867.2,840.2 868.5,841.3 869.8,842.5 871.1,843.9 872.3,845.3 873.4,846.8 874.4,848.4 875.4,850.0 876.2,851.6 876.9,853.3 877.5,854.9 878.0,856.5 878.4,858.0 878.6,859.5 878.7,860.9 878.6,862.2 878.4,863.4 878.1,864.4 877.6,865.3 877.0,866.1 876.3,866.7" fill="none" stroke="#1a1a1a" stroke-width="4" stroke-linecap="round"/><path d="M840,862 Q848,872 858,868 L866,876 L860,887" fill="none" stroke="#1a1a1a" stroke-width="1.5" stroke-linejoin="round" stroke-linecap="round" /><ellipse cx="822" cy="849" rx="3" ry="5" transform="rotate(20 822 849)" fill="#fff" stroke="#1a1a1a" stroke-width="2" /><path d="M887,872 L913,884 L909,893 L883,881 Z" fill="#fff" stroke="#1a1a1a" stroke-width="1.6" stroke-linejoin="round" stroke-linecap="round" /><ellipse cx="911" cy="888" rx="3.5" ry="5" transform="rotate(20 911 888)" fill="#fff" stroke="#1a1a1a" stroke-width="2" /><ellipse cx="885" cy="877" rx="3.5" ry="5" transform="rotate(20 885 877)" fill="#fff" stroke="#1a1a1a" stroke-width="1.5" /><ellipse cx="922" cy="895" rx="3.5" ry="6" transform="rotate(20 922 895)" fill="#fff" stroke="#1a1a1a" stroke-width="2.5" /><line x1="845" y1="936" x2="879" y2="894" stroke="#1a1a1a" stroke-width="4" stroke-linecap="round"/><line x1="845" y1="936" x2="879" y2="894" stroke="#fff" stroke-width="1.2000000000000002" stroke-linecap="round"/><line x1="868" y1="941" x2="901" y2="900" stroke="#1a1a1a" stroke-width="4" stroke-linecap="round"/><line x1="868" y1="941" x2="901" y2="900" stroke="#fff" stroke-width="1.2000000000000002" stroke-linecap="round"/><line x1="830" y1="952" x2="840" y2="944" stroke="#1a1a1a" stroke-width="3.5" stroke-linecap="round"/><ellipse cx="828" cy="955" rx="6" ry="4.5" transform="rotate(-30 828 955)" fill="#fff" stroke="#1a1a1a" stroke-width="1.8" /><line x1="852" y1="958" x2="862" y2="950" stroke="#1a1a1a" stroke-width="3.5" stroke-linecap="round"/><ellipse cx="850" cy="961" rx="6" ry="4.5" transform="rotate(-30 850 961)" fill="#fff" stroke="#1a1a1a" stroke-width="1.8" /><path d="M797,908 L808,903 L812,908 L829,884 Q832,878 838,878 Q845,880 843,890 L838,898 L822,916 L818,930 L808,936 L797,930 L795,918 Z" fill="#fff" stroke="#1a1a1a" stroke-width="1.8" stroke-linejoin="round" stroke-linecap="round" /><path d="M812,908 L817,914 M829,884 Q836,890 838,898" fill="none" stroke="#1a1a1a" stroke-width="1.4" stroke-linejoin="round" stroke-linecap="round" /><ellipse cx="838" cy="886" rx="4" ry="7" transform="rotate(25 838 886)" fill="#fff" stroke="#1a1a1a" stroke-width="1.8" /><circle cx="807" cy="922" r="2.2" fill="#1a1a1a"/><path d="M796,920 L806,916 M798,930 L808,925" fill="none" stroke="#1a1a1a" stroke-width="1.4" stroke-linejoin="round" stroke-linecap="round" /><line x1="1192" y1="698" x2="1207" y2="705" stroke="#1a1a1a" stroke-width="4.5" stroke-linecap="round"/><line x1="1183" y1="712" x2="1198" y2="719" stroke="#1a1a1a" stroke-width="4.5" stroke-linecap="round"/><path d="M1252,741 L1256,726 L1264,717 Q1267,720 1265,731 L1259,743 Z" fill="#fff" stroke="#1a1a1a" stroke-width="2.4" stroke-linejoin="round" stroke-linecap="round" /><ellipse cx="1259" cy="731" rx="2.5" ry="6" transform="rotate(20 1259 731)" fill="#999" stroke="#1a1a1a" stroke-width="1.4" /><path d="M1282,669 L1300,658 L1349,666 L1357,674 L1353,714 L1335,725 L1276,714 Z" fill="#fff" stroke="#1a1a1a" stroke-width="1.8" stroke-linejoin="round" stroke-linecap="round" /><path d="M1282,669 L1330,681 L1357,674 M1330,681 L1335,725" fill="none" stroke="#1a1a1a" stroke-width="1.7" stroke-linejoin="round" stroke-linecap="round" /><path d="M1286,668 L1301,661 L1346,668 L1352,673 L1330,678 Z" fill="#1a1a1a"/><path d="M1296,664 l10,2 M1310,667 l12,2 M1322,666 l8,1" stroke="#fff" stroke-width="1.6"/><path d="M1331,683 L1355,677 L1353,713 L1336,722 Z" fill="#1a1a1a"/><path d="M1333,690 l20,-6 M1333,696 l20,-6 M1334,702 l19,-6 M1334,708 l19,-6 M1335,714 l17,-5" stroke="#fff" stroke-width="1.3"/><path d="M1334,676 l12,-4 l4,3 l-12,5 Z" fill="#fff"/><rect x="1292" y="685.5" width="13" height="5" rx="2.5" fill="#bbb" stroke="#1a1a1a" stroke-width="1.7"/><rect x="1311" y="686.5" width="13" height="5" rx="2.5" fill="#bbb" stroke="#1a1a1a" stroke-width="1.7"/><rect x="1292" y="692.0" width="13" height="5" rx="2.5" fill="#bbb" stroke="#1a1a1a" stroke-width="1.7"/><rect x="1311" y="693.0" width="13" height="5" rx="2.5" fill="#bbb" stroke="#1a1a1a" stroke-width="1.7"/><rect x="1292" y="698.5" width="13" height="5" rx="2.5" fill="#bbb" stroke="#1a1a1a" stroke-width="1.7"/><rect x="1311" y="699.5" width="13" height="5" rx="2.5" fill="#bbb" stroke="#1a1a1a" stroke-width="1.7"/><path d="M1302,717 L1322,724 L1316,738 L1308,741 L1302,732 Z" fill="#fff" stroke="#1a1a1a" stroke-width="2" stroke-linejoin="round" stroke-linecap="round" /><path d="M1304,722 l4,14 M1309,719 l4,4" stroke="#1a1a1a" stroke-width="2.5"/><ellipse cx="1341" cy="741" rx="3.5" ry="5.5" transform="rotate(15 1341 741)" fill="#fff" stroke="#1a1a1a" stroke-width="2" /><ellipse cx="1322" cy="765" rx="3.5" ry="5.5" transform="rotate(15 1322 765)" fill="#fff" stroke="#1a1a1a" stroke-width="2" /><ellipse cx="1387" cy="762" rx="6" ry="5.5" transform="rotate(0 1387 762)" fill="#fff" stroke="#1a1a1a" stroke-width="2.4" /><ellipse cx="1387" cy="762" rx="2.5" ry="2.5" transform="rotate(0 1387 762)" fill="#fff" stroke="#1a1a1a" stroke-width="1.2" /><ellipse cx="1356" cy="783" rx="6" ry="5.5" transform="rotate(0 1356 783)" fill="#fff" stroke="#1a1a1a" stroke-width="2.4" /><ellipse cx="1356" cy="783" rx="2.5" ry="2.5" transform="rotate(0 1356 783)" fill="#fff" stroke="#1a1a1a" stroke-width="1.2" /><circle cx="1138" cy="814" r="3" fill="#1a1a1a"/><line x1="1186" y1="863" x2="1190" y2="866" stroke="#1a1a1a" stroke-width="3.5" stroke-linecap="round"/><circle cx="1186" cy="863" r="4" fill="#1a1a1a"/><circle cx="1185.5" cy="862.5" r="0.88" fill="#888"/><path d="M1050,906 L1080,836 L1098,826 L1116,827 L1160,846 L1163,863 L1158,877 L1149,883 L1134,883 L1130,893 L1111,891 L1108,893 L1092,897 L1058,903 Z" fill="#fff" stroke="#1a1a1a" stroke-width="1.8" stroke-linejoin="round" stroke-linecap="round" /><path d="M1080,848 L1092,853 L1131,869 L1130,893 M1092,853 L1094,881 L1108,890 M1058,903 L1078,850 M1062,902 L1085,899 L1108,890 M1094,881 L1085,899" fill="none" stroke="#1a1a1a" stroke-width="1.5" stroke-linejoin="round" stroke-linecap="round" /><ellipse cx="1120" cy="830" rx="3.5" ry="3" transform="rotate(0 1120 830)" fill="#fff" stroke="#1a1a1a" stroke-width="1.6" /><circle cx="1155" cy="862" r="1.5" fill="#1a1a1a"/><circle cx="1051" cy="904" r="2.5" fill="#1a1a1a"/><path d="M1020,980 L1046,990 L1042,1004 L1016,994 Z" fill="#fff" stroke="#1a1a1a" stroke-width="1.6" stroke-linejoin="round" stroke-linecap="round" /><path d="M1022,982 l-3,10 M1028,984 l-3,10 M1034,987 l-3,10" stroke="#1a1a1a" stroke-width="1.4"/><ellipse cx="1056" cy="998" rx="12" ry="17" transform="rotate(15 1056 998)" fill="#fff" stroke="#1a1a1a" stroke-width="2" /><path d="M1067.6,1001.1L1070.5,1001.9 M1065.8,1005.8L1068.3,1007.4 M1063.1,1009.8L1065.1,1012.1 M1059.8,1012.8L1061.0,1015.5 M1056.1,1014.4L1056.5,1017.4 M1052.5,1014.6L1051.9,1017.6 M1049.1,1013.3L1047.7,1016.0 M1046.4,1010.7L1044.3,1012.8 M1044.5,1006.9L1041.9,1008.3 M1043.6,1002.3L1040.7,1002.9 M1043.9,997.4L1040.9,997.0 M1045.2,992.5L1042.4,991.3 M1047.5,988.1L1045.2,986.1 M1050.5,984.6L1048.9,982.0 M1054.0,982.2L1053.2,979.3 M1057.7,981.3L1057.8,978.3 M1061.3,981.9L1062.2,979.0 M1064.3,983.8L1066.1,981.4 M1066.7,987.1L1069.1,985.3 M1068.1,991.3L1070.9,990.3 M1068.4,996.1L1071.4,996.0 M1067.6,1001.1L1070.5,1001.9" stroke="#1a1a1a" stroke-width="2.8" fill="none"/><ellipse cx="1057" cy="999" rx="3.5" ry="4.5" transform="rotate(15 1057 999)" fill="#fff" stroke="#1a1a1a" stroke-width="1.6" /><path d="M394,1128 Q402,1118 418,1120 Q430,1126 429,1146" fill="none" stroke="#1a1a1a" stroke-width="6" stroke-linejoin="round" stroke-linecap="round" /><path d="M394,1128 Q402,1118 418,1120 Q430,1126 429,1146" fill="none" stroke-width="3" stroke-linejoin="round" stroke-linecap="round" stroke="#fff"/><path d="M388,1122 L398,1118 L402,1130 L392,1134 Z" fill="#fff" stroke="#1a1a1a" stroke-width="2" stroke-linejoin="round" stroke-linecap="round" /><rect x="391" y="1123" width="6" height="6" fill="#1a1a1a"/><line x1="428" y1="1155" x2="462" y2="1139" stroke="#1a1a1a" stroke-width="4.5" stroke-linecap="round"/><line x1="428" y1="1155" x2="462" y2="1139" stroke="#fff" stroke-width="1.9" stroke-linecap="round"/><path d="M458,1138 Q464,1136 465,1140" fill="none" stroke="#1a1a1a" stroke-width="1.6" stroke-linejoin="round" stroke-linecap="round" /><path d="M411,1151 L424,1147 L429,1149 L429,1162 L415,1166 L411,1164 Z" fill="#fff" stroke="#1a1a1a" stroke-width="1.6" stroke-linejoin="round" stroke-linecap="round" /><rect x="412" y="1153" width="7" height="10" fill="#1a1a1a"/><rect x="414" y="1155" width="3" height="2" fill="#fff"/><rect x="414" y="1159" width="3" height="2" fill="#fff"/><line x1="486" y1="1168" x2="506" y2="1154" stroke="#1a1a1a" stroke-width="8" stroke-linecap="round"/><path d="M489,1166 l15,-10" stroke="#fff" stroke-width="1.2" stroke-dasharray="2 1.5"/><ellipse cx="514" cy="1147" rx="5" ry="6" transform="rotate(30 514 1147)" fill="#fff" stroke="#1a1a1a" stroke-width="2.2" /><ellipse cx="514" cy="1147" rx="2" ry="2.5" transform="rotate(30 514 1147)" fill="#fff" stroke="#1a1a1a" stroke-width="1" /><line x1="524" y1="1224" x2="540" y2="1232" stroke="#1a1a1a" stroke-width="4.5" stroke-linecap="round"/><line x1="524" y1="1224" x2="540" y2="1232" stroke="#fff" stroke-width="0.9" stroke-dasharray="1.2 2.2"/><ellipse cx="524" cy="1224" rx="4.5" ry="4.05" fill="#fff" stroke="#1a1a1a" stroke-width="3.15"/><ellipse cx="524" cy="1224" rx="1.3499999999999999" ry="1.2600000000000002" fill="#1a1a1a"/><line x1="555" y1="1181" x2="573" y2="1190" stroke="#1a1a1a" stroke-width="4.5" stroke-linecap="round"/><line x1="555" y1="1181" x2="573" y2="1190" stroke="#fff" stroke-width="0.9" stroke-dasharray="1.2 2.2"/><ellipse cx="555" cy="1181" rx="4.5" ry="4.05" fill="#fff" stroke="#1a1a1a" stroke-width="3.15"/><ellipse cx="555" cy="1181" rx="1.3499999999999999" ry="1.2600000000000002" fill="#1a1a1a"/><path d="M558,1209 Q556,1213 558,1216 L568,1234 L580,1241 L588,1238 L587,1207 L560,1206 Z" fill="#fff" stroke="#1a1a1a" stroke-width="1.6" stroke-linejoin="round" stroke-linecap="round" /><path d="M558,1209 Q562,1204 566,1208 L566,1214 Q562,1218 558,1215" fill="#fff" stroke="#1a1a1a" stroke-width="1.4" stroke-linejoin="round" stroke-linecap="round" /><path d="M570,1210 Q566,1222 572,1234" fill="none" stroke="#1a1a1a" stroke-width="1.3" stroke-linejoin="round" stroke-linecap="round" /><path d="M593,1205 L627,1222 L615,1251 L597,1241 Z" fill="#fff" stroke="#1a1a1a" stroke-width="1.6" stroke-linejoin="round" stroke-linecap="round" /><ellipse cx="586" cy="1225" rx="7" ry="17" transform="rotate(5 586 1225)" fill="#fff" stroke="#1a1a1a" stroke-width="2" /><ellipse cx="588" cy="1225" rx="5" ry="15" transform="rotate(5 588 1225)" fill="#fff" stroke="#1a1a1a" stroke-width="1.2" /><ellipse cx="619" cy="1236" rx="12" ry="17" transform="rotate(20 619 1236)" fill="#fff" stroke="#1a1a1a" stroke-width="1.8" /><ellipse cx="620" cy="1236" rx="4" ry="4.5" transform="rotate(20 620 1236)" fill="#fff" stroke="#1a1a1a" stroke-width="1.6" /><ellipse cx="620" cy="1236" rx="2" ry="2.5" transform="rotate(20 620 1236)" fill="#fff" stroke="#1a1a1a" stroke-width="1" /><circle cx="626" cy="1226" r="1.8" fill="#1a1a1a"/><circle cx="614" cy="1247" r="1.8" fill="#1a1a1a"/><path d="M600,1224 Q600,1218 606,1218 L611,1221 L612,1226" fill="none" stroke="#1a1a1a" stroke-width="1.6" stroke-linejoin="round" stroke-linecap="round" /><path d="M566,1246 L576,1240 L586,1248 L584,1260 L575,1262 L566,1256 Z" fill="#fff" stroke="#1a1a1a" stroke-width="1.6" stroke-linejoin="round" stroke-linecap="round" /><ellipse cx="579" cy="1253" rx="6" ry="9" transform="rotate(20 579 1253)" fill="#fff" stroke="#1a1a1a" stroke-width="1.6" /><circle cx="582" cy="1250" r="1.3" fill="#1a1a1a"/><circle cx="578" cy="1257" r="1.3" fill="#1a1a1a"/><path d="M598,1224 L596,1245 Q586,1262 587,1272 Q590,1288 601,1290 Q612,1288 622,1276" fill="none" stroke="#1a1a1a" stroke-width="1.6" stroke-linejoin="round" stroke-linecap="round" /><path d="M640,1220 q3,-3 5,1 l-4,4 q4,1 6,0" fill="none" stroke="#1a1a1a" stroke-width="1.4" stroke-linejoin="round" stroke-linecap="round" /><path d="M624,1266 L634,1261 L644,1266 L645,1284 L634,1290 L625,1284 Z" fill="#fff" stroke="#1a1a1a" stroke-width="1.6" stroke-linejoin="round" stroke-linecap="round" /><path d="M624,1266 L634,1271 L644,1266 M634,1271 L634,1290" fill="none" stroke="#1a1a1a" stroke-width="1.3" stroke-linejoin="round" stroke-linecap="round" /><ellipse cx="646" cy="1281" rx="5" ry="5" transform="rotate(0 646 1281)" fill="#fff" stroke="#1a1a1a" stroke-width="1.8" /><ellipse cx="646" cy="1281" rx="2" ry="2" transform="rotate(0 646 1281)" fill="#fff" stroke="#1a1a1a" stroke-width="1.2" /><ellipse cx="619" cy="1260" rx="3.5" ry="2.8" transform="rotate(-20 619 1260)" fill="#fff" stroke="#1a1a1a" stroke-width="1.8" /><line x1="609" y1="1293" x2="619" y2="1283" stroke="#1a1a1a" stroke-width="3.2" stroke-linecap="round"/><line x1="624" y1="1305" x2="634" y2="1295" stroke="#1a1a1a" stroke-width="3.2" stroke-linecap="round"/><line x1="706" y1="1113" x2="724" y2="1124" stroke="#1a1a1a" stroke-width="4.5" stroke-linecap="round"/><line x1="706" y1="1113" x2="724" y2="1124" stroke="#fff" stroke-width="1.7000000000000002" stroke-linecap="round"/><circle cx="734" cy="1130" r="2" fill="#1a1a1a"/><ellipse cx="745" cy="1137" rx="4" ry="5" transform="rotate(20 745 1137)" fill="#fff" stroke="#1a1a1a" stroke-width="1.8" /><ellipse cx="745" cy="1137" rx="1.8" ry="2.5" transform="rotate(20 745 1137)" fill="#fff" stroke="#1a1a1a" stroke-width="1" /><ellipse cx="783" cy="1160" rx="14" ry="18" transform="rotate(20 783 1160)" fill="#fff" stroke="#1a1a1a" stroke-width="2.2" /><path d="M796.2,1164.8L799.0,1165.8 M791.8,1172.1L793.8,1174.3 M785.4,1176.6L786.2,1179.5 M778.5,1177.4L777.8,1180.3 M772.6,1174.1L770.6,1176.4 M769.1,1167.6L766.3,1168.7 M768.8,1159.4L765.8,1159.1 M771.7,1151.3L769.2,1149.6 M777.2,1145.2L775.8,1142.6 M784.1,1142.5L784.1,1139.5 M790.7,1143.8L792.1,1141.1 M795.5,1148.8L798.0,1147.1 M797.5,1156.4L800.5,1156.0 M796.2,1164.8L799.0,1165.8" stroke="#1a1a1a" stroke-width="3" fill="none"/><ellipse cx="784" cy="1162" rx="7" ry="9" transform="rotate(20 784 1162)" fill="#333" stroke="#1a1a1a" stroke-width="2.5" /><ellipse cx="784" cy="1162" rx="3" ry="4" transform="rotate(20 784 1162)" fill="#fff" stroke="#1a1a1a" stroke-width="1.2" /><ellipse cx="805" cy="1178" rx="3.5" ry="4.5" transform="rotate(20 805 1178)" fill="#fff" stroke="#1a1a1a" stroke-width="1.8" /><line x1="826" y1="1191" x2="834" y2="1196" stroke="#1a1a1a" stroke-width="3" stroke-linecap="round"/><ellipse cx="825" cy="1190" rx="2.5" ry="3.5" transform="rotate(20 825 1190)" fill="#fff" stroke="#1a1a1a" stroke-width="1.5" /><path d="M858,1164 L862,1180 L853,1194 L846,1208" fill="none" stroke="#1a1a1a" stroke-width="4.5" stroke-linejoin="round" stroke-linecap="round" /><path d="M858,1164 L862,1180 L853,1194 L846,1208" fill="none" stroke-width="2" stroke-linejoin="round" stroke-linecap="round" stroke="#fff"/><path d="M842,1202 L851,1206 L848,1214 L840,1210 Z" fill="#fff" stroke="#1a1a1a" stroke-width="1.6" stroke-linejoin="round" stroke-linecap="round" /><circle cx="869" cy="1191" r="2.2" fill="#1a1a1a"/><path d="M915,1133 L920,1127 L931,1133 L930,1143 L925,1150 L926,1156 L921,1161 L918,1180 L915,1179 L916,1161 L910,1158 L909,1152 L913,1148 Q909,1141 915,1133 Z" fill="#fff" stroke="#1a1a1a" stroke-width="2.6" stroke-linejoin="round" stroke-linecap="round" /><path d="M916,1137 Q922,1134 926,1140 M921,1145 L918,1160 M912,1153 L920,1152" fill="none" stroke="#1a1a1a" stroke-width="1.8" stroke-linejoin="round" stroke-linecap="round" /><path d="M918,1162 L916,1178" stroke="#1a1a1a" stroke-width="2.5"/><line x1="881" y1="1151" x2="895" y2="1144" stroke="#1a1a1a" stroke-width="4.5" stroke-linecap="round"/><line x1="881" y1="1151" x2="895" y2="1144" stroke="#fff" stroke-width="0.9" stroke-dasharray="1.2 2.2"/><ellipse cx="881" cy="1151" rx="3.5" ry="3.15" fill="#fff" stroke="#1a1a1a" stroke-width="2.45"/><ellipse cx="881" cy="1151" rx="1.05" ry="0.9800000000000001" fill="#1a1a1a"/><line x1="880" y1="1174" x2="894" y2="1166" stroke="#1a1a1a" stroke-width="4.5" stroke-linecap="round"/><line x1="880" y1="1174" x2="894" y2="1166" stroke="#fff" stroke-width="0.9" stroke-dasharray="1.2 2.2"/><ellipse cx="880" cy="1174" rx="3.5" ry="3.15" fill="#fff" stroke="#1a1a1a" stroke-width="2.45"/><ellipse cx="880" cy="1174" rx="1.05" ry="0.9800000000000001" fill="#1a1a1a"/><ellipse cx="840" cy="1047" rx="8" ry="13" transform="rotate(20 840 1047)" fill="#fff" stroke="#1a1a1a" stroke-width="3" /><ellipse cx="841" cy="1048" rx="3.5" ry="8" transform="rotate(20 841 1048)" fill="#fff" stroke="#1a1a1a" stroke-width="1.5" /><ellipse cx="871" cy="1067" rx="12" ry="18" transform="rotate(20 871 1067)" fill="#fff" stroke="#1a1a1a" stroke-width="2" /><ellipse cx="872" cy="1068" rx="8" ry="13" transform="rotate(20 872 1068)" fill="#fff" stroke="#1a1a1a" stroke-width="3" /><ellipse cx="872" cy="1068" rx="4.5" ry="8" transform="rotate(20 872 1068)" fill="#fff" stroke="#1a1a1a" stroke-width="1.2" /><path d="M898,1072 L932,1085 L929,1099 L896,1081 Z" fill="#fff" stroke="#1a1a1a" stroke-width="1.8" stroke-linejoin="round" stroke-linecap="round" /><path d="M898,1072 L910,1077 L907,1087 L896,1081 Z" fill="#1a1a1a"/><path d="M913,1079 l-3,9 M920,1082 l-3,10" fill="none" stroke="#1a1a1a" stroke-width="1.4" stroke-linejoin="round" stroke-linecap="round" /><path d="M928,1092 Q930,1082 944,1082 Q952,1086 948,1100 L956,1110 Q966,1124 958,1128 Q946,1130 934,1118 Q926,1106 928,1092 Z" fill="#fff" stroke="#1a1a1a" stroke-width="1.8" stroke-linejoin="round" stroke-linecap="round" /><polyline points="939.8,1081.9 941.0,1081.6 942.2,1081.6 943.3,1081.8 944.3,1082.2 945.3,1082.9 946.1,1083.7 946.7,1084.7 947.3,1085.9 947.6,1087.2 947.8,1088.6 947.8,1090.1 947.7,1091.7 947.4,1093.3 946.9,1094.8 946.3,1096.4 945.5,1097.9 944.6,1099.2 943.6,1100.5 942.5,1101.6 941.3,1102.6 940.1,1103.3 938.9,1103.9 937.6,1104.3 936.4,1104.4 935.3,1104.3 934.2,1104.0 933.2,1103.5 932.3,1102.7 931.6,1101.8 931.0,1100.7" fill="none" stroke="#1a1a1a" stroke-width="3.5" stroke-linecap="round"/><path d="M949,1082 Q954,1076 962,1077 L975,1084 Q978,1090 975,1100 L968,1104 Q956,1100 950,1094 Z" fill="#fff" stroke="#1a1a1a" stroke-width="1.7" stroke-linejoin="round" stroke-linecap="round" /><ellipse cx="971" cy="1094" rx="2" ry="4" transform="rotate(0 971 1094)" fill="#fff" stroke="#1a1a1a" stroke-width="1.6" /><path d="M946,1100 Q944,1116 952,1128 Q960,1134 968,1130 L975,1122 L975,1106 Q962,1098 946,1100 Z" fill="#fff" stroke="#1a1a1a" stroke-width="1.7" stroke-linejoin="round" stroke-linecap="round" /><ellipse cx="973" cy="1114" rx="9" ry="13" transform="rotate(20 973 1114)" fill="#fff" stroke="#1a1a1a" stroke-width="4.5" /><path d="M977,1105 L1021,1127 L1014,1143 L973,1124 Z" fill="#fff" stroke="#1a1a1a" stroke-width="1.7" stroke-linejoin="round" stroke-linecap="round" /><path d="M986,1114 L996,1120 L992,1130" fill="none" stroke="#1a1a1a" stroke-width="1.3" stroke-linejoin="round" stroke-linecap="round" /><ellipse cx="1018" cy="1135" rx="4" ry="8" transform="rotate(25 1018 1135)" fill="#fff" stroke="#1a1a1a" stroke-width="3.5" /><line x1="919" y1="1072" x2="926" y2="1074" stroke="#1a1a1a" stroke-width="2.6" stroke-linecap="round"/><line x1="1010" y1="1114" x2="1020" y2="1118" stroke="#1a1a1a" stroke-width="4.5" stroke-linecap="round"/><path d="M1024,1146 L1063,1118 L1088,1129 L1090,1149 L1080,1183 L1035,1213 L1026,1194 Z" fill="#fff" stroke="#1a1a1a" stroke-width="3" stroke-linejoin="round" stroke-linecap="round" /><path d="M1028,1150 L1063,1123 L1084,1132 L1086,1149 L1076,1180 L1037,1207 L1030,1192 Z" fill="none" stroke-width="1.4" stroke-linejoin="round" stroke-linecap="round" stroke="#fff"/><circle cx="1063" cy="1118" r="2.5" fill="#1a1a1a"/><circle cx="1080" cy="1140" r="2" fill="#1a1a1a"/><circle cx="1036" cy="1212" r="2.5" fill="#1a1a1a"/><circle cx="1026" cy="1166" r="2" fill="#1a1a1a"/><line x1="1125" y1="1160" x2="1135" y2="1164" stroke="#1a1a1a" stroke-width="8" stroke-linecap="butt"/><line x1="1125" y1="1160" x2="1135" y2="1164" stroke="#fff" stroke-width="5.0" stroke-linecap="butt"/><ellipse cx="1136" cy="1164" rx="3" ry="4.5" transform="rotate(20 1136 1164)" fill="#fff" stroke="#1a1a1a" stroke-width="1.5" /><line x1="1069" y1="1230" x2="1080" y2="1237" stroke="#1a1a1a" stroke-width="8" stroke-linecap="butt"/><line x1="1069" y1="1230" x2="1080" y2="1237" stroke="#fff" stroke-width="5.0" stroke-linecap="butt"/><ellipse cx="1081" cy="1238" rx="3" ry="4.5" transform="rotate(20 1081 1238)" fill="#fff" stroke="#1a1a1a" stroke-width="1.5" /><ellipse cx="1160" cy="1207" rx="13" ry="17" transform="rotate(20 1160 1207)" fill="#fff" stroke="#1a1a1a" stroke-width="2" /><ellipse cx="1162" cy="1208" rx="8" ry="12" transform="rotate(20 1162 1208)" fill="#fff" stroke="#1a1a1a" stroke-width="2.5" /><ellipse cx="1162" cy="1208" rx="5" ry="8" transform="rotate(20 1162 1208)" fill="#fff" stroke="#1a1a1a" stroke-width="1" /><ellipse cx="1183" cy="1218" rx="9" ry="12" transform="rotate(20 1183 1218)" fill="#fff" stroke="#1a1a1a" stroke-width="3" /><ellipse cx="1184" cy="1219" rx="5" ry="8" transform="rotate(20 1184 1219)" fill="#fff" stroke="#1a1a1a" stroke-width="1.3" /><path d="M1204,1225 L1238,1203 L1260,1200 L1272,1208 L1270,1220 L1276,1241 L1266,1252 L1255,1276 L1220,1300 L1210,1305 L1201,1299 L1195,1284 L1196,1255 L1201,1230 Z" fill="#fff" stroke="#1a1a1a" stroke-width="2.4" stroke-linejoin="round" stroke-linecap="round" /><path d="M1215,1225 L1248,1212 L1258,1222 L1262,1250 L1249,1257 L1221,1274 L1212,1262 L1208,1240 Z" fill="#fff" stroke="#1a1a1a" stroke-width="1.8" stroke-linejoin="round" stroke-linecap="round" /><path d="M1204,1228 L1212,1232 L1214,1290 M1238,1203 L1250,1212 M1258,1200 L1262,1208 L1270,1215" fill="none" stroke="#1a1a1a" stroke-width="1.5" stroke-linejoin="round" stroke-linecap="round" /><ellipse cx="1237" cy="1244" rx="15" ry="21" transform="rotate(20 1237 1244)" fill="#fff" stroke="#1a1a1a" stroke-width="2" /><ellipse cx="1237" cy="1244" rx="11" ry="16" transform="rotate(20 1237 1244)" fill="#fff" stroke="#1a1a1a" stroke-width="1.6" /><ellipse cx="1237" cy="1244" rx="6" ry="10" transform="rotate(20 1237 1244)" fill="#fff" stroke="#1a1a1a" stroke-width="2.2" /><ellipse cx="1237" cy="1244" rx="3.5" ry="6.5" transform="rotate(20 1237 1244)" fill="#fff" stroke="#1a1a1a" stroke-width="1.2" /><polyline points="1248.7,1230.8 1249.4,1232.2 1250.0,1233.7 1250.4,1235.4 1250.7,1237.1 1250.8,1238.9 1250.8,1240.8 1250.6,1242.7 1250.3,1244.6 1249.8,1246.6 1249.2,1248.4 1248.5,1250.3 1247.6,1252.1 1246.6,1253.7 1245.5,1255.3 1244.3,1256.8 1243.1,1258.1 1241.7,1259.3 1240.3,1260.2 1238.9,1261.1 1237.5,1261.7 1236.0,1262.1 1234.6,1262.4 1233.2,1262.4 1231.8,1262.2 1230.5,1261.9 1229.3,1261.3 1228.1,1260.5 1227.0,1259.6 1226.1,1258.5 1225.3,1257.2" fill="none" stroke="#1a1a1a" stroke-width="3.5" stroke-linecap="round"/><ellipse cx="1201" cy="1284" rx="7.5" ry="8" transform="rotate(0 1201 1284)" fill="#333" stroke="#1a1a1a" stroke-width="4" /><ellipse cx="1201" cy="1284" rx="3.5" ry="3.5" transform="rotate(0 1201 1284)" fill="#1a1a1a" stroke="none" stroke-width="0" /><ellipse cx="1211" cy="1235" rx="3" ry="3" transform="rotate(0 1211 1235)" fill="#fff" stroke="#1a1a1a" stroke-width="1.6" /><ellipse cx="1245" cy="1215" rx="3" ry="3" transform="rotate(0 1245 1215)" fill="#fff" stroke="#1a1a1a" stroke-width="1.6" /><ellipse cx="1264" cy="1214" rx="3" ry="4" transform="rotate(0 1264 1214)" fill="#fff" stroke="#1a1a1a" stroke-width="2.2" /><ellipse cx="1264" cy="1232" rx="3" ry="4" transform="rotate(0 1264 1232)" fill="#fff" stroke="#1a1a1a" stroke-width="2.2" /><path d="M1198,1240 L1203,1238 L1204,1256 L1199,1258 Z M1199,1265 L1207,1262 L1208,1272 L1200,1276 Z" fill="#fff" stroke="#1a1a1a" stroke-width="1.6" stroke-linejoin="round" stroke-linecap="round" /><path d="M1218,1298 L1214,1290 L1222,1284" fill="none" stroke="#1a1a1a" stroke-width="1.4" stroke-linejoin="round" stroke-linecap="round" /><circle cx="1212" cy="1296" r="2.5" fill="#1a1a1a"/><circle cx="1250" cy="1268" r="1.6" fill="#1a1a1a"/><circle cx="1234" cy="1276" r="1.5" fill="#1a1a1a"/><path d="M1255,1276 L1262,1264 L1266,1252" fill="none" stroke="#1a1a1a" stroke-width="2" stroke-linejoin="round" stroke-linecap="round" /><path d="M1309,1196 L1321,1191 L1329,1196 L1326,1203 L1313,1207 Z" fill="#1a1a1a" stroke="#1a1a1a" stroke-width="2" stroke-linejoin="round" stroke-linecap="round" /><path d="M1313,1198 l9,-4 M1314,1202 l9,-3" stroke="#888" stroke-width="1.1"/><line x1="1296" y1="1218" x2="1311" y2="1207" stroke="#1a1a1a" stroke-width="4.5" stroke-linecap="round"/><line x1="1296" y1="1218" x2="1311" y2="1207" stroke="#fff" stroke-width="1.5" stroke-linecap="round"/><path d="M1133,1284 Q1138,1277 1145,1282 L1148,1290 L1140,1294 Q1132,1290 1133,1284 Z" fill="#fff" stroke="#1a1a1a" stroke-width="1.8" stroke-linejoin="round" stroke-linecap="round" /><line x1="1147" y1="1288" x2="1170" y2="1289" stroke="#1a1a1a" stroke-width="3.2" stroke-linecap="round"/><line x1="1147" y1="1288" x2="1170" y2="1289" stroke="#fff" stroke-width="1.0" stroke-linecap="round"/><line x1="1288" y1="1232" x2="1274" y2="1225" stroke="#1a1a1a" stroke-width="4" stroke-linecap="round"/><circle cx="1288" cy="1232" r="4.5" fill="#1a1a1a"/><circle cx="1287" cy="1231" r="1.2" fill="#777"/><line x1="1311" y1="1244" x2="1297" y2="1237" stroke="#1a1a1a" stroke-width="4" stroke-linecap="round"/><circle cx="1311" cy="1244" r="4.5" fill="#1a1a1a"/><circle cx="1310" cy="1243" r="1.2" fill="#777"/><line x1="1290" y1="1266" x2="1277" y2="1259" stroke="#1a1a1a" stroke-width="4" stroke-linecap="round"/><circle cx="1290" cy="1266" r="4.5" fill="#1a1a1a"/><circle cx="1289" cy="1265" r="1.2" fill="#777"/><line x1="1287" y1="1281" x2="1271" y2="1274" stroke="#1a1a1a" stroke-width="4" stroke-linecap="round"/><circle cx="1287" cy="1281" r="4.5" fill="#1a1a1a"/><circle cx="1286" cy="1280" r="1.2" fill="#777"/><line x1="1265" y1="1295" x2="1252" y2="1288" stroke="#1a1a1a" stroke-width="4" stroke-linecap="round"/><circle cx="1265" cy="1295" r="4.5" fill="#1a1a1a"/><circle cx="1264" cy="1294" r="1.2" fill="#777"/><line x1="1247" y1="1316" x2="1233" y2="1309" stroke="#1a1a1a" stroke-width="4" stroke-linecap="round"/><circle cx="1247" cy="1316" r="4.5" fill="#1a1a1a"/><circle cx="1246" cy="1315" r="1.2" fill="#777"/>
<line x1="723" y1="181" x2="723" y2="930" stroke="#3a3a3a" stroke-width="2.2" stroke-dasharray="2.2 8"/><line x1="140" y1="710" x2="650" y2="957" stroke="#3a3a3a" stroke-width="2.2" stroke-dasharray="2.2 9"/><line x1="803" y1="1030" x2="1325" y2="1290" stroke="#3a3a3a" stroke-width="2.2" stroke-dasharray="2.2 9"/><line x1="649" y1="1058" x2="649" y2="1196" stroke="#3a3a3a" stroke-width="2" stroke-dasharray="7 34"/><line x1="783" y1="955" x2="1002" y2="980" stroke="#3a3a3a" stroke-width="2" stroke-dasharray="2 9"/><line x1="677" y1="1090" x2="745" y2="1139" stroke="#3a3a3a" stroke-width="2" stroke-dasharray="2 8"/><line x1="1049" y1="652" x2="1247" y2="730" stroke="#3a3a3a" stroke-width="2" stroke-dasharray="2 8"/><line x1="905" y1="942" x2="1020" y2="984" stroke="#3a3a3a" stroke-width="2" stroke-dasharray="2 9"/><line x1="830" y1="968" x2="922" y2="940" stroke="#3a3a3a" stroke-width="2" stroke-dasharray="2 9"/>
</g>
<g class="ld">
<polyline points="749,41 825,41"/>
<polyline points="736,100 825,100"/>
<polyline points="795,130 825,130"/>
<polyline points="795,196 825,196"/>
<polyline points="602,242 656,242"/>
<polyline points="602,291 650,291"/>
<polyline points="664,358 825,358"/>
<polyline points="698,384 825,384"/>
<polyline points="868,443 905,443"/>
<polyline points="794,483 905,483"/>
<polyline points="778,509 905,509"/>
<polyline points="458,482 514,441"/>
<polyline points="524,516 580,476"/>
<polyline points="591,554 646,512"/>
<polyline points="644,584 700,540"/>
<polyline points="676,600 748,546"/>
<polyline points="710,620 774,576"/>
<polyline points="744,640 818,584"/>
<polyline points="780,656 862,601"/>
<polyline points="1172,376 1200,358"/>
<polyline points="1324,356 1364,377"/>
<polyline points="1306,386 1343,405"/>
<polyline points="1260,429 1308,451"/>
<polyline points="1226,458 1280,486"/>
<polyline points="1208,486 1260,512"/>
<polyline points="1198,514 1240,534"/>
<polyline points="1166,534 1220,562"/>
<polyline points="1148,562 1202,588"/>
<polyline points="1020,510 1076,540"/>
<polyline points="1005,534 1044,552"/>
<polyline points="980,562 1018,582"/>
<polyline points="1084,586 1140,614"/>
<polyline points="1094,570 1176,616"/>
<polyline points="1080,606 1156,644"/>
<polyline points="1058,628 1136,670"/>
<polyline points="925,642 961,661 961,678"/>
<polyline points="902,665 972,703"/>
<polyline points="1035,669 1110,705"/>
<polyline points="986,703 1074,751"/>
<polyline points="1154,746 1191,717"/>
<polyline points="970,748 1047,786"/>
<polyline points="945,778 1022,816"/>
<polyline points="929,802 974,825"/>
<polyline points="912,822 988,859"/>
<polyline points="902,841 902,852 968,886"/>
<polyline points="925,895 954,908"/>
<polyline points="911,890 911,922 934,933"/>
<polyline points="880,937 920,955"/>
<polyline points="850,960 897,983"/>
<polyline points="815,917 813,973 877,1003"/>
<polyline points="1206,777 1254,744"/>
<polyline points="1229,793 1307,741"/>
<polyline points="1260,805 1317,768"/>
<polyline points="1294,825 1352,787"/>
<polyline points="1139,814 1206,847"/>
<polyline points="1157,877 1193,895"/>
<polyline points="1055,984 1101,948"/>
<polyline points="461,695 560,695"/>
<polyline points="461,742 495,742"/>
<polyline points="666,742 748,742"/>
<polyline points="666,767 735,767"/>
<polyline points="666,822 702,822"/>
<polyline points="666,853 702,853"/>
<polyline points="666,880 710,880 712,884"/>
<polyline points="666,902 700,902"/>
<polyline points="643,930 627,940 627,983"/>
<polyline points="642,955 642,987"/>
<polyline points="803,668 817,668"/>
<polyline points="813,697 842,697"/>
<polyline points="776,704 800,704"/>
<polyline points="832,739 853,739"/>
<polyline points="820,785 853,785"/>
<polyline points="722,802 760,832"/>
<polyline points="818,840 842,847"/>
<polyline points="740,842 760,857"/>
<polyline points="98,795 160,748"/>
<polyline points="130,820 152,800 152,780 182,757"/>
<polyline points="197,867 222,850"/>
<polyline points="240,898 305,848"/>
<polyline points="268,915 342,865"/>
<polyline points="300,935 418,850"/>
<polyline points="333,958 448,880"/>
<polyline points="388,993 483,927"/>
<polyline points="438,1027 538,955"/>
<polyline points="472,1045 577,965"/>
<polyline points="238,990 238,1027"/>
<polyline points="510,1075 568,1032"/>
<polyline points="555,1065 602,1028"/>
<polyline points="556,1101 632,1056"/>
<polyline points="580,1117 673,1052"/>
<polyline points="619,1113 666,1079"/>
<polyline points="518,1148 592,1148"/>
<polyline points="623,1145 681,1104 681,1084"/>
<polyline points="648,1160 709,1117"/>
<polyline points="693,1158 734,1130"/>
<polyline points="684,1182 745,1139"/>
<polyline points="733,1033 780,1050"/>
<polyline points="805,1076 835,1054"/>
<polyline points="837,1095 864,1074"/>
<polyline points="716,1205 772,1167"/>
<polyline points="760,1214 803,1182"/>
<polyline points="769,1238 826,1194"/>
<polyline points="790,1252 844,1211"/>
<polyline points="819,1270 869,1234 869,1191"/>
<polyline points="423,1162 423,1198"/>
<polyline points="495,1167 495,1193"/>
<polyline points="464,1272 524,1230"/>
<polyline points="517,1270 553,1245 553,1184"/>
<polyline points="518,1295 572,1257"/>
<polyline points="547,1313 617,1263"/>
<polyline points="576,1331 612,1306 612,1284"/>
<polyline points="612,1306 626,1299"/>
<polyline points="920,1073 979,1032"/>
<polyline points="965,1082 1013,1047"/>
<polyline points="1017,1112 1071,1073"/>
<polyline points="1080,1125 1119,1097"/>
<polyline points="1136,1157 1175,1125"/>
<polyline points="1170,1190 1228,1147"/>
<polyline points="1185,1209 1256,1160"/>
<polyline points="1267,1203 1297,1181"/>
<polyline points="1308,1239 1353,1207"/>
<polyline points="1108,1306 1136,1287"/>
<polyline points="927,1147 950,1159"/>
<polyline points="890,1174 946,1203"/>
</g>
<g class="lbl">
<text x="827.7" y="51.0" textLength="53.9" lengthAdjust="spacingAndGlyphs">102</text>
<text x="828.6" y="110.0" textLength="55.7" lengthAdjust="spacingAndGlyphs">103</text>
<text x="827.6" y="140.0" textLength="55.5" lengthAdjust="spacingAndGlyphs">104</text>
<text x="827.6" y="206.0" textLength="54.7" lengthAdjust="spacingAndGlyphs">105</text>
<text x="542.7" y="252.0" textLength="53.6" lengthAdjust="spacingAndGlyphs">106</text>
<text x="542.6" y="300.0" textLength="55.0" lengthAdjust="spacingAndGlyphs">107</text>
<text x="824.6" y="367.0" textLength="54.7" lengthAdjust="spacingAndGlyphs">108</text>
<text x="824.6" y="392.0" textLength="55.0" lengthAdjust="spacingAndGlyphs">109</text>
<text x="906.4" y="453.0" textLength="37.2" lengthAdjust="spacingAndGlyphs">99</text>
<text x="905.7" y="492.0" textLength="53.6" lengthAdjust="spacingAndGlyphs">100</text>
<text x="906.0" y="518.0" textLength="45.3" lengthAdjust="spacingAndGlyphs">101</text>
<text x="425.7" y="498.0" textLength="29.6" lengthAdjust="spacingAndGlyphs">91</text>
<text x="491.6" y="534.0" textLength="32.8" lengthAdjust="spacingAndGlyphs">92</text>
<text x="558.5" y="572.0" textLength="33.7" lengthAdjust="spacingAndGlyphs">93</text>
<text x="611.6" y="601.0" textLength="32.3" lengthAdjust="spacingAndGlyphs">94</text>
<text x="645.6" y="619.0" textLength="31.5" lengthAdjust="spacingAndGlyphs">95</text>
<text x="680.4" y="638.0" textLength="35.8" lengthAdjust="spacingAndGlyphs">96</text>
<text x="715.6" y="657.0" textLength="31.7" lengthAdjust="spacingAndGlyphs">97</text>
<text x="750.5" y="676.0" textLength="34.8" lengthAdjust="spacingAndGlyphs">98</text>
<text x="1143.5" y="393.0" textLength="33.9" lengthAdjust="spacingAndGlyphs">62</text>
<text x="1368.5" y="391.0" textLength="33.7" lengthAdjust="spacingAndGlyphs">60</text>
<text x="1348.9" y="417.0" textLength="26.3" lengthAdjust="spacingAndGlyphs">61</text>
<text x="1312.6" y="464.0" textLength="32.6" lengthAdjust="spacingAndGlyphs">63</text>
<text x="1285.6" y="498.0" textLength="32.3" lengthAdjust="spacingAndGlyphs">64</text>
<text x="1264.6" y="525.0" textLength="32.6" lengthAdjust="spacingAndGlyphs">65</text>
<text x="1247.6" y="548.0" textLength="31.5" lengthAdjust="spacingAndGlyphs">66</text>
<text x="1225.6" y="574.0" textLength="32.8" lengthAdjust="spacingAndGlyphs">67</text>
<text x="1206.6" y="600.0" textLength="32.6" lengthAdjust="spacingAndGlyphs">68</text>
<text x="990.6" y="516.0" textLength="32.8" lengthAdjust="spacingAndGlyphs">69</text>
<text x="974.6" y="539.0" textLength="32.6" lengthAdjust="spacingAndGlyphs">70</text>
<text x="950.6" y="571.0" textLength="32.3" lengthAdjust="spacingAndGlyphs">74</text>
<text x="1142.5" y="629.0" textLength="35.0" lengthAdjust="spacingAndGlyphs">72</text>
<text x="1181.7" y="631.0" textLength="29.6" lengthAdjust="spacingAndGlyphs">71</text>
<text x="1162.6" y="657.0" textLength="32.6" lengthAdjust="spacingAndGlyphs">73</text>
<text x="1140.5" y="682.0" textLength="33.7" lengthAdjust="spacingAndGlyphs">75</text>
<text x="894.5" y="650.0" textLength="33.9" lengthAdjust="spacingAndGlyphs">77</text>
<text x="872.7" y="672.0" textLength="30.4" lengthAdjust="spacingAndGlyphs">78</text>
<text x="1116.7" y="716.0" textLength="30.4" lengthAdjust="spacingAndGlyphs">76</text>
<text x="1080.7" y="763.0" textLength="30.7" lengthAdjust="spacingAndGlyphs">79</text>
<text x="1128.9" y="762.0" textLength="31.3" lengthAdjust="spacingAndGlyphs">55</text>
<text x="1051.8" y="798.0" textLength="32.3" lengthAdjust="spacingAndGlyphs">80</text>
<text x="1027.0" y="830.0" textLength="27.2" lengthAdjust="spacingAndGlyphs">81</text>
<text x="977.8" y="836.0" textLength="33.7" lengthAdjust="spacingAndGlyphs">82</text>
<text x="993.8" y="872.0" textLength="33.4" lengthAdjust="spacingAndGlyphs">83</text>
<text x="973.9" y="898.0" textLength="31.0" lengthAdjust="spacingAndGlyphs">84</text>
<text x="955.8" y="920.0" textLength="33.4" lengthAdjust="spacingAndGlyphs">86</text>
<text x="937.8" y="943.0" textLength="33.7" lengthAdjust="spacingAndGlyphs">87</text>
<text x="921.8" y="967.0" textLength="33.4" lengthAdjust="spacingAndGlyphs">88</text>
<text x="898.8" y="995.0" textLength="32.6" lengthAdjust="spacingAndGlyphs">89</text>
<text x="880.6" y="1018.0" textLength="32.6" lengthAdjust="spacingAndGlyphs">90</text>
<text x="1177.9" y="795.0" textLength="31.3" lengthAdjust="spacingAndGlyphs">56</text>
<text x="1200.9" y="810.0" textLength="31.5" lengthAdjust="spacingAndGlyphs">57</text>
<text x="1231.8" y="823.0" textLength="32.3" lengthAdjust="spacingAndGlyphs">58</text>
<text x="1263.8" y="845.0" textLength="33.7" lengthAdjust="spacingAndGlyphs">59</text>
<text x="1211.8" y="864.0" textLength="33.1" lengthAdjust="spacingAndGlyphs">54</text>
<text x="1197.9" y="911.0" textLength="30.2" lengthAdjust="spacingAndGlyphs">53</text>
<text x="1105.9" y="947.0" textLength="31.5" lengthAdjust="spacingAndGlyphs">52</text>
<text x="430.9" y="703.0" textLength="30.2" lengthAdjust="spacingAndGlyphs">35</text>
<text x="430.9" y="750.0" textLength="30.2" lengthAdjust="spacingAndGlyphs">36</text>
<text x="635.7" y="753.0" textLength="30.4" lengthAdjust="spacingAndGlyphs">25</text>
<text x="635.7" y="778.0" textLength="30.4" lengthAdjust="spacingAndGlyphs">26</text>
<text x="635.7" y="833.0" textLength="30.7" lengthAdjust="spacingAndGlyphs">27</text>
<text x="635.7" y="863.0" textLength="30.4" lengthAdjust="spacingAndGlyphs">28</text>
<text x="635.7" y="892.0" textLength="30.7" lengthAdjust="spacingAndGlyphs">29</text>
<text x="635.9" y="912.0" textLength="30.2" lengthAdjust="spacingAndGlyphs">30</text>
<text x="646.3" y="935.0" textLength="37.6" lengthAdjust="spacingAndGlyphs">110</text>
<text x="646.2" y="959.0" textLength="37.9" lengthAdjust="spacingAndGlyphs">111</text>
<text x="816.3" y="676.0" textLength="39.9" lengthAdjust="spacingAndGlyphs">121</text>
<text x="843.0" y="705.0" textLength="45.0" lengthAdjust="spacingAndGlyphs">120</text>
<text x="733.1" y="713.0" textLength="43.1" lengthAdjust="spacingAndGlyphs">122</text>
<text x="855.8" y="748.0" textLength="32.3" lengthAdjust="spacingAndGlyphs">33</text>
<text x="855.8" y="795.0" textLength="32.1" lengthAdjust="spacingAndGlyphs">34</text>
<text x="762.1" y="847.0" textLength="26.1" lengthAdjust="spacingAndGlyphs">31</text>
<text x="790.8" y="840.0" textLength="32.3" lengthAdjust="spacingAndGlyphs">85</text>
<text x="760.9" y="876.0" textLength="30.4" lengthAdjust="spacingAndGlyphs">32</text>
<text x="84.8" y="809.0" textLength="8.9" lengthAdjust="spacingAndGlyphs">1</text>
<text x="115.6" y="832.0" textLength="15.7" lengthAdjust="spacingAndGlyphs">2</text>
<text x="153.0" y="884.0" textLength="43.0" lengthAdjust="spacingAndGlyphs">118</text>
<text x="224.4" y="912.0" textLength="14.5" lengthAdjust="spacingAndGlyphs">4</text>
<text x="251.8" y="931.0" textLength="16.4" lengthAdjust="spacingAndGlyphs">5</text>
<text x="283.7" y="953.0" textLength="15.5" lengthAdjust="spacingAndGlyphs">6</text>
<text x="318.6" y="974.0" textLength="15.7" lengthAdjust="spacingAndGlyphs">7</text>
<text x="370.7" y="1008.0" textLength="17.5" lengthAdjust="spacingAndGlyphs">8</text>
<text x="421.5" y="1044.0" textLength="16.9" lengthAdjust="spacingAndGlyphs">9</text>
<text x="440.9" y="1061.0" textLength="32.3" lengthAdjust="spacingAndGlyphs">10</text>
<text x="228.2" y="1055.0" textLength="40.0" lengthAdjust="spacingAndGlyphs">119</text>
<text x="484.5" y="1088.0" textLength="21.5" lengthAdjust="spacingAndGlyphs">11</text>
<text x="526.0" y="1087.0" textLength="30.3" lengthAdjust="spacingAndGlyphs">12</text>
<text x="527.0" y="1116.0" textLength="30.0" lengthAdjust="spacingAndGlyphs">13</text>
<text x="553.1" y="1135.0" textLength="28.7" lengthAdjust="spacingAndGlyphs">14</text>
<text x="594.0" y="1131.0" textLength="30.0" lengthAdjust="spacingAndGlyphs">15</text>
<text x="594.0" y="1160.0" textLength="30.0" lengthAdjust="spacingAndGlyphs">16</text>
<text x="621.2" y="1177.0" textLength="28.0" lengthAdjust="spacingAndGlyphs">17</text>
<text x="664.0" y="1177.0" textLength="30.0" lengthAdjust="spacingAndGlyphs">18</text>
<text x="657.2" y="1200.0" textLength="28.0" lengthAdjust="spacingAndGlyphs">19</text>
<text x="776.8" y="1063.0" textLength="32.6" lengthAdjust="spacingAndGlyphs">37</text>
<text x="777.8" y="1092.0" textLength="33.4" lengthAdjust="spacingAndGlyphs">38</text>
<text x="806.8" y="1110.0" textLength="33.7" lengthAdjust="spacingAndGlyphs">39</text>
<text x="689.6" y="1222.0" textLength="31.5" lengthAdjust="spacingAndGlyphs">20</text>
<text x="734.8" y="1230.0" textLength="27.4" lengthAdjust="spacingAndGlyphs">21</text>
<text x="740.7" y="1253.0" textLength="30.7" lengthAdjust="spacingAndGlyphs">22</text>
<text x="761.6" y="1267.0" textLength="31.5" lengthAdjust="spacingAndGlyphs">23</text>
<text x="788.5" y="1285.0" textLength="33.4" lengthAdjust="spacingAndGlyphs">24</text>
<text x="412.1" y="1225.0" textLength="41.1" lengthAdjust="spacingAndGlyphs">112</text>
<text x="469.9" y="1214.0" textLength="48.2" lengthAdjust="spacingAndGlyphs">123</text>
<text x="426.1" y="1288.0" textLength="40.8" lengthAdjust="spacingAndGlyphs">113</text>
<text x="477.2" y="1288.0" textLength="40.6" lengthAdjust="spacingAndGlyphs">114</text>
<text x="479.2" y="1310.0" textLength="39.8" lengthAdjust="spacingAndGlyphs">115</text>
<text x="511.2" y="1328.0" textLength="38.7" lengthAdjust="spacingAndGlyphs">116</text>
<text x="540.1" y="1347.0" textLength="41.1" lengthAdjust="spacingAndGlyphs">117</text>
<text x="982.3" y="1037.0" textLength="32.1" lengthAdjust="spacingAndGlyphs">42</text>
<text x="1018.3" y="1053.0" textLength="31.8" lengthAdjust="spacingAndGlyphs">43</text>
<text x="1075.3" y="1079.0" textLength="31.6" lengthAdjust="spacingAndGlyphs">44</text>
<text x="1124.3" y="1103.0" textLength="31.8" lengthAdjust="spacingAndGlyphs">45</text>
<text x="1180.3" y="1129.0" textLength="31.8" lengthAdjust="spacingAndGlyphs">46</text>
<text x="1232.3" y="1153.0" textLength="32.1" lengthAdjust="spacingAndGlyphs">47</text>
<text x="1260.3" y="1166.0" textLength="31.8" lengthAdjust="spacingAndGlyphs">48</text>
<text x="1301.3" y="1187.0" textLength="32.1" lengthAdjust="spacingAndGlyphs">49</text>
<text x="1357.0" y="1212.0" textLength="27.2" lengthAdjust="spacingAndGlyphs">51</text>
<text x="1078.8" y="1325.0" textLength="32.3" lengthAdjust="spacingAndGlyphs">50</text>
<text x="952.4" y="1173.0" textLength="29.7" lengthAdjust="spacingAndGlyphs">40</text>
<text x="952.5" y="1216.0" textLength="24.6" lengthAdjust="spacingAndGlyphs">41</text>
</g>
<line x1="0" y1="1371.5" x2="1500" y2="1371.5" stroke="#111" stroke-width="1.6"/>
<rect x="49" y="1356" width="5" height="1.5" fill="#555"/>
<rect x="31" y="1406" width="215.5" height="60" fill="#7f7e83"/>
<rect x="47.5" y="1420.5" width="23" height="31" fill="none" stroke="#fff" stroke-width="3"/>
<polygon points="53.4,1423 56.8,1423 69.5,1436 69.5,1444.5" fill="#fff"/>
<polygon points="48.8,1426.8 69.5,1449 61.8,1449 48.8,1439" fill="#fff"/>
<text x="78.3" y="1452" font-family="Liberation Sans" font-weight="bold" font-size="46" fill="#fff" stroke="#fff" stroke-width="2.6" stroke-linejoin="miter" textLength="153.5" lengthAdjust="spacingAndGlyphs">STEHER</text>
<text x="287.3" y="1451.2" font-family="Liberation Sans" font-size="39" fill="#111" textLength="168.3" lengthAdjust="spacingAndGlyphs">GST-756E.</text>
<text x="461" y="1451" font-family="Liberation Sans" font-size="33" fill="#111" stroke="#fff" stroke-width="0.9" textLength="925" lengthAdjust="spacingAndGlyphs">Схема 1-2 (Схема-состав двигатель. Снегоуборщик бензиновый)</text>
</svg>
</body></html>
